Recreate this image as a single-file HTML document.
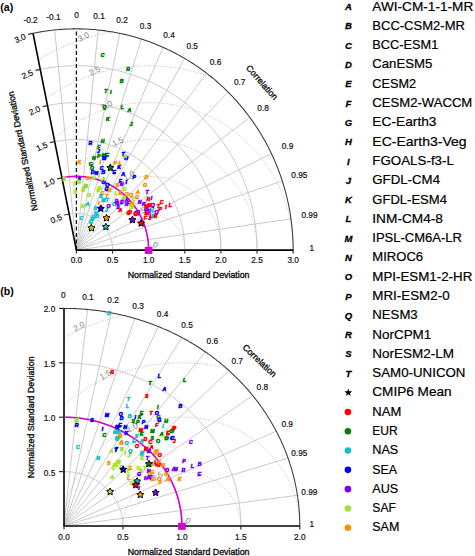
<!DOCTYPE html>
<html><head><meta charset="utf-8"><style>
html,body{margin:0;padding:0;background:#fff;width:475px;height:556px;overflow:hidden}
body{position:relative;font-family:"Liberation Sans", sans-serif}
</style></head><body>
<svg width="475" height="556" viewBox="0 0 475 556" style="position:absolute;left:0;top:0"><rect width="475" height="556" fill="#fff"/><g font-family='"Liberation Sans", sans-serif'><g stroke="#c4c4c4" stroke-width="0.9" fill="none"><line x1="76.40" y1="250.10" x2="33.05" y2="33.32"/><line x1="76.40" y1="250.10" x2="54.72" y2="29.96"/><line x1="76.40" y1="250.10" x2="98.08" y2="29.96"/><line x1="76.40" y1="250.10" x2="119.75" y2="33.32"/><line x1="76.40" y1="250.10" x2="141.43" y2="39.04"/><line x1="76.40" y1="250.10" x2="163.10" y2="47.32"/><line x1="76.40" y1="250.10" x2="184.77" y2="58.49"/><line x1="76.40" y1="250.10" x2="206.45" y2="73.10"/><line x1="76.40" y1="250.10" x2="228.12" y2="92.10"/><line x1="76.40" y1="250.10" x2="249.80" y2="117.35"/><line x1="76.40" y1="250.10" x2="271.48" y2="153.66"/><line x1="76.40" y1="250.10" x2="282.31" y2="181.01"/><line x1="76.40" y1="250.10" x2="290.98" y2="218.89"/><path d="M112.53,250.10 L112.52,249.28 L112.49,248.47 L112.45,247.65 L112.38,246.84 L112.30,246.02 L112.21,245.21 L112.09,244.40 L111.96,243.60 L111.81,242.80 L111.64,242.00 L111.46,241.20 L111.26,240.41 L111.04,239.63 L110.80,238.85 L110.55,238.07 L110.28,237.30 L109.99,236.54 L109.69,235.78 L109.37,235.03 L109.04,234.29 L108.69,233.56 L108.32,232.83 L107.94,232.11 L107.54,231.41 L107.13,230.71 L106.70,230.02 L106.25,229.34 L105.80,228.67 L105.32,228.01 L104.84,227.36 L104.34,226.72 L103.82,226.10 L103.29,225.48 L102.75,224.88 L102.20,224.29 L101.63,223.71 L101.06,223.15 L100.46,222.60 L99.86,222.06 L99.25,221.54 L98.62,221.03 L97.99,220.53 L97.34,220.05 L96.68,219.59 L96.01,219.13 L95.34,218.70 L94.65,218.28 L93.96,217.87 L93.25,217.48 L92.54,217.11 L91.82,216.75 L91.09,216.41 L90.36,216.09 L89.62,215.78 L88.87,215.49 L88.12,215.22 L87.36,214.96 L86.59,214.72 L85.82,214.50 L85.05,214.30 L84.27,214.11 L83.48,213.94 L82.70,213.79 L81.91,213.66 L81.12,213.54 L80.32,213.44 L79.53,213.36 L78.73,213.30 L77.93,213.26 L77.13,213.23 L76.33,213.23 L75.53,213.24 L74.73,213.26 L73.93,213.31 L73.13,213.38 L72.34,213.46 L71.54,213.56 L70.75,213.68 L69.96,213.82 L69.18,213.97" fill="none"/><path d="M148.65,250.10 L148.63,248.47 L148.58,246.83 L148.49,245.20 L148.37,243.57 L148.21,241.95 L148.01,240.33 L147.78,238.71 L147.52,237.10 L147.22,235.49 L146.88,233.90 L146.52,232.31 L146.11,230.73 L145.67,229.15 L145.20,227.59 L144.70,226.04 L144.16,224.50 L143.59,222.98 L142.98,221.47 L142.34,219.97 L141.67,218.48 L140.97,217.02 L140.24,215.56 L139.47,214.13 L138.68,212.71 L137.85,211.31 L136.99,209.93 L136.11,208.57 L135.19,207.23 L134.25,205.91 L133.27,204.62 L132.27,203.34 L131.25,202.09 L130.19,200.86 L129.11,199.66 L128.00,198.48 L126.87,197.33 L125.71,196.20 L124.53,195.10 L123.32,194.02 L122.09,192.97 L120.84,191.95 L119.57,190.96 L118.28,190.00 L116.96,189.07 L115.63,188.17 L114.28,187.30 L112.90,186.46 L111.51,185.65 L110.11,184.87 L108.68,184.12 L107.24,183.41 L105.79,182.73 L104.32,182.08 L102.84,181.46 L101.34,180.88 L99.83,180.34 L98.31,179.82 L96.78,179.35 L95.24,178.90 L93.69,178.49 L92.13,178.12 L90.57,177.78 L89.00,177.48 L87.42,177.21 L85.83,176.98 L84.24,176.79 L82.65,176.63 L81.05,176.50 L79.46,176.42 L77.86,176.36 L76.26,176.35 L74.66,176.37 L73.06,176.43 L71.46,176.52 L69.86,176.65 L68.27,176.82 L66.68,177.02 L65.10,177.26 L63.52,177.53 L61.95,177.84" fill="none"/><path d="M184.78,250.10 L184.75,247.65 L184.67,245.20 L184.54,242.75 L184.35,240.31 L184.11,237.87 L183.82,235.44 L183.47,233.01 L183.08,230.60 L182.63,228.19 L182.13,225.79 L181.57,223.41 L180.97,221.04 L180.31,218.68 L179.60,216.34 L178.85,214.01 L178.04,211.71 L177.18,209.42 L176.27,207.15 L175.32,204.90 L174.31,202.68 L173.26,200.47 L172.16,198.30 L171.01,196.14 L169.82,194.02 L168.58,191.92 L167.29,189.85 L165.96,187.81 L164.59,185.80 L163.17,183.82 L161.71,181.88 L160.21,179.96 L158.67,178.09 L157.08,176.24 L155.46,174.44 L153.80,172.67 L152.10,170.94 L150.37,169.25 L148.59,167.59 L146.78,165.98 L144.94,164.41 L143.07,162.88 L141.16,161.40 L139.22,159.95 L137.24,158.56 L135.24,157.20 L133.21,155.89 L131.15,154.63 L129.07,153.42 L126.96,152.25 L124.82,151.13 L122.66,150.06 L120.48,149.04 L118.28,148.07 L116.05,147.15 L113.81,146.27 L111.55,145.45 L109.27,144.69 L106.97,143.97 L104.66,143.30 L102.34,142.69 L100.00,142.13 L97.65,141.62 L95.29,141.17 L92.92,140.77 L90.55,140.42 L88.16,140.13 L85.78,139.89 L83.38,139.70 L80.98,139.57 L78.58,139.50 L76.18,139.48 L73.78,139.51 L71.38,139.59 L68.99,139.73 L66.59,139.93 L64.21,140.18 L61.82,140.48 L59.45,140.84 L57.08,141.25 L54.73,141.71" fill="none"/><path d="M220.90,250.10 L220.86,246.83 L220.76,243.57 L220.58,240.30 L220.33,237.05 L220.01,233.80 L219.63,230.55 L219.17,227.32 L218.64,224.10 L218.04,220.89 L217.37,217.69 L216.63,214.51 L215.82,211.35 L214.95,208.21 L214.01,205.09 L213.00,201.99 L211.92,198.91 L210.77,195.86 L209.56,192.83 L208.29,189.84 L206.95,186.87 L205.54,183.93 L204.08,181.03 L202.55,178.16 L200.96,175.32 L199.30,172.53 L197.59,169.77 L195.82,167.05 L193.98,164.37 L192.09,161.73 L190.15,159.14 L188.15,156.59 L186.09,154.08 L183.98,151.63 L181.82,149.22 L179.60,146.86 L177.34,144.55 L175.02,142.29 L172.66,140.09 L170.25,137.94 L167.79,135.85 L165.29,133.81 L162.74,131.83 L160.16,129.90 L157.53,128.04 L154.86,126.24 L152.15,124.49 L149.41,122.81 L146.63,121.19 L143.81,119.63 L140.96,118.14 L138.09,116.72 L135.18,115.35 L132.24,114.06 L129.27,112.83 L126.28,111.67 L123.26,110.57 L120.22,109.55 L117.16,108.59 L114.08,107.70 L110.98,106.89 L107.87,106.14 L104.74,105.46 L101.59,104.86 L98.43,104.32 L95.26,103.86 L92.09,103.47 L88.90,103.15 L85.71,102.91 L82.51,102.73 L79.31,102.63 L76.11,102.60 L72.91,102.64 L69.71,102.76 L66.52,102.95 L63.33,103.20 L60.14,103.54 L56.97,103.94 L53.80,104.42 L50.64,104.96 L47.50,105.58" fill="none"/><path d="M257.02,250.10 L256.98,246.02 L256.85,241.93 L256.63,237.86 L256.32,233.78 L255.92,229.72 L255.43,225.67 L254.86,221.62 L254.20,217.60 L253.45,213.58 L252.61,209.59 L251.69,205.62 L250.68,201.66 L249.59,197.74 L248.41,193.83 L247.15,189.96 L245.80,186.11 L244.37,182.30 L242.86,178.52 L241.26,174.77 L239.59,171.06 L237.83,167.39 L236.00,163.76 L234.08,160.17 L232.09,156.63 L230.03,153.13 L227.89,149.68 L225.67,146.28 L223.38,142.93 L221.02,139.64 L218.59,136.39 L216.08,133.21 L213.51,130.08 L210.87,127.01 L208.17,124.00 L205.40,121.05 L202.57,118.16 L199.68,115.34 L196.72,112.59 L193.71,109.90 L190.64,107.28 L187.51,104.74 L184.33,102.26 L181.09,99.86 L177.81,97.53 L174.47,95.27 L171.09,93.09 L167.66,90.99 L164.18,88.96 L160.67,87.02 L157.11,85.15 L153.51,83.37 L149.87,81.67 L146.20,80.05 L142.49,78.51 L138.75,77.06 L134.98,75.69 L131.18,74.41 L127.35,73.21 L123.50,72.10 L119.63,71.08 L115.73,70.15 L111.82,69.30 L107.89,68.55 L103.94,67.88 L99.98,67.30 L96.01,66.81 L92.03,66.42 L88.04,66.11 L84.04,65.89 L80.04,65.76 L76.04,65.73 L72.04,65.78 L68.04,65.92 L64.05,66.16 L60.06,66.48 L56.08,66.90 L52.11,67.40 L48.15,67.99 L44.20,68.68 L40.27,69.45" fill="none"/></g><g stroke="#b4b4b4" stroke-width="0.9" stroke-dasharray="1,1.6" fill="none"><path d="M184.78,250.10 L184.77,249.81 L184.77,249.52 L184.76,249.23 L184.76,248.94 L184.75,248.65 L184.73,248.36 L184.72,248.07 L184.70,247.78 L184.68,247.50 L184.66,247.21 L184.64,246.92 L184.61,246.63 L184.59,246.34 L184.56,246.05 L184.52,245.77 L184.49,245.48 L184.45,245.19 L184.41,244.90 L184.37,244.62 L184.33,244.33 L184.28,244.05 L184.24,243.76 L184.19,243.48 L184.14,243.19 L184.08,242.91 L184.02,242.62 L183.97,242.34 L183.90,242.06 L183.84,241.77 L183.78,241.49 L183.71,241.21 L183.64,240.93 L183.57,240.65 L183.49,240.37 L183.42,240.09 L183.34,239.81 L183.26,239.53 L183.18,239.26 L183.09,238.98 L183.01,238.70 L182.92,238.43 L182.83,238.16 L182.73,237.88 L182.64,237.61 L182.54,237.34 L182.44,237.07 L182.34,236.80 L182.24,236.53 L182.13,236.26 L182.03,235.99 L181.92,235.72 L181.80,235.46 L181.69,235.19 L181.57,234.93 L181.46,234.66 L181.34,234.40 L181.22,234.14 L181.09,233.88 L180.97,233.62 L180.84,233.36 L180.71,233.10 L180.58,232.85 L180.44,232.59 L180.31,232.34 L180.17,232.08 L180.03,231.83 L179.89,231.58 L179.74,231.33 L179.60,231.08 L179.45,230.83 L179.30,230.59 L179.15,230.34 L179.00,230.10 L178.84,229.85 L178.69,229.61 L178.53,229.37 L178.37,229.13 L178.21,228.90 L178.04,228.66 L177.88,228.43 L177.71,228.19 L177.54,227.96 L177.37,227.73 L177.19,227.50 L177.02,227.27 L176.84,227.04 L176.66,226.82 L176.48,226.59 L176.30,226.37 L176.12,226.15 L175.93,225.93 L175.75,225.71 L175.56,225.50 L175.37,225.28 L175.18,225.07 L174.98,224.86 L174.79,224.65 L174.59,224.44 L174.39,224.23 L174.19,224.03 L173.99,223.82 L173.79,223.62 L173.59,223.42 L173.38,223.22 L173.17,223.02 L172.96,222.83 L172.75,222.63 L172.54,222.44 L172.33,222.25 L172.11,222.06 L171.89,221.87 L171.68,221.69 L171.46,221.50 L171.24,221.32 L171.01,221.14 L170.79,220.96 L170.57,220.79 L170.34,220.61 L170.11,220.44 L169.88,220.27 L169.65,220.10 L169.42,219.93 L169.19,219.77 L168.96,219.60 L168.72,219.44 L168.48,219.28 L168.25,219.12 L168.01,218.97 L167.77,218.81 L167.53,218.66 L167.28,218.51 L167.04,218.36 L166.79,218.21 L166.55,218.07 L166.30,217.93 L166.05,217.79 L165.80,217.65 L165.55,217.51 L165.30,217.38 L165.05,217.24 L164.80,217.11 L164.54,216.99 L164.29,216.86 L164.03,216.73 L163.77,216.61 L163.52,216.49 L163.26,216.37 L163.00,216.26 L162.74,216.14 L162.47,216.03 L162.21,215.92 L161.95,215.81 L161.68,215.71 L161.42,215.61 L161.15,215.50 L160.89,215.41 L160.62,215.31 L160.35,215.21 L160.08,215.12 L159.81,215.03 L159.54,214.94 L159.27,214.86 L159.00,214.77 L158.73,214.69 L158.46,214.61 L158.18,214.53 L157.91,214.46 L157.63,214.38 L157.36,214.31 L157.08,214.24 L156.81,214.18 L156.53,214.11 L156.25,214.05 L155.98,213.99 L155.70,213.93 L155.42,213.88 L155.14,213.83 L154.86,213.77 L154.58,213.73 L154.30,213.68 L154.02,213.63 L153.74,213.59 L153.46,213.55 L153.18,213.52 L152.90,213.48 L152.61,213.45 L152.33,213.42 L152.05,213.39 L151.77,213.36 L151.48,213.34 L151.20,213.32 L150.92,213.30 L150.64,213.28 L150.35,213.27 L150.07,213.25 L149.78,213.24 L149.50,213.24 L149.22,213.23 L148.93,213.23 L148.65,213.22 L148.37,213.23 L148.08,213.23 L147.80,213.24 L147.52,213.24 L147.23,213.25 L146.95,213.27 L146.66,213.28 L146.38,213.30 L146.10,213.32 L145.82,213.34 L145.53,213.36 L145.25,213.39 L144.97,213.42 L144.69,213.45 L144.40,213.48 L144.12,213.52 L143.84,213.55 L143.56,213.59 L143.28,213.63 L143.00,213.68 L142.72,213.73 L142.44,213.77 L142.16,213.83 L141.88,213.88 L141.60,213.93 L141.32,213.99 L141.05,214.05 L140.77,214.11 L140.49,214.18 L140.22,214.24 L139.94,214.31 L139.67,214.38 L139.39,214.46 L139.12,214.53 L138.84,214.61 L138.57,214.69 L138.30,214.77 L138.03,214.86 L137.76,214.94 L137.49,215.03 L137.22,215.12 L136.95,215.21 L136.68,215.31 L136.41,215.41 L136.15,215.50 L135.88,215.61 L135.62,215.71 L135.35,215.81 L135.09,215.92 L134.83,216.03 L134.56,216.14 L134.30,216.26 L134.04,216.37 L133.78,216.49 L133.53,216.61 L133.27,216.73 L133.01,216.86 L132.76,216.99 L132.50,217.11 L132.25,217.24 L132.00,217.38 L131.75,217.51 L131.50,217.65 L131.25,217.79 L131.00,217.93 L130.75,218.07 L130.51,218.21 L130.26,218.36 L130.02,218.51 L129.77,218.66 L129.53,218.81 L129.29,218.97 L129.05,219.12 L128.82,219.28 L128.58,219.44 L128.34,219.60 L128.11,219.77 L127.88,219.93 L127.65,220.10 L127.42,220.27 L127.19,220.44 L126.96,220.61 L126.73,220.79 L126.51,220.96 L126.29,221.14 L126.06,221.32 L125.84,221.50 L125.62,221.69 L125.41,221.87 L125.19,222.06 L124.97,222.25 L124.76,222.44 L124.55,222.63 L124.34,222.83 L124.13,223.02 L123.92,223.22 L123.71,223.42 L123.51,223.62 L123.31,223.82 L123.11,224.03 L122.91,224.23 L122.71,224.44 L122.51,224.65 L122.32,224.86 L122.12,225.07 L121.93,225.28 L121.74,225.50 L121.55,225.71 L121.37,225.93 L121.18,226.15 L121.00,226.37 L120.82,226.59 L120.64,226.82 L120.46,227.04 L120.28,227.27 L120.11,227.50 L119.93,227.73 L119.76,227.96 L119.59,228.19 L119.42,228.43 L119.26,228.66 L119.09,228.90 L118.93,229.13 L118.77,229.37 L118.61,229.61 L118.46,229.85 L118.30,230.10 L118.15,230.34 L118.00,230.59 L117.85,230.83 L117.70,231.08 L117.56,231.33 L117.41,231.58 L117.27,231.83 L117.13,232.08 L116.99,232.34 L116.86,232.59 L116.72,232.85 L116.59,233.10 L116.46,233.36 L116.33,233.62 L116.21,233.88 L116.08,234.14 L115.96,234.40 L115.84,234.66 L115.73,234.93 L115.61,235.19 L115.50,235.46 L115.38,235.72 L115.27,235.99 L115.17,236.26 L115.06,236.53 L114.96,236.80 L114.86,237.07 L114.76,237.34 L114.66,237.61 L114.57,237.88 L114.47,238.16 L114.38,238.43 L114.29,238.70 L114.21,238.98 L114.12,239.26 L114.04,239.53 L113.96,239.81 L113.88,240.09 L113.81,240.37 L113.73,240.65 L113.66,240.93 L113.59,241.21 L113.52,241.49 L113.46,241.77 L113.40,242.06 L113.33,242.34 L113.28,242.62 L113.22,242.91 L113.16,243.19 L113.11,243.48 L113.06,243.76 L113.02,244.05 L112.97,244.33 L112.93,244.62 L112.89,244.90 L112.85,245.19 L112.81,245.48 L112.78,245.77 L112.74,246.05 L112.71,246.34 L112.69,246.63 L112.66,246.92 L112.64,247.21 L112.62,247.50 L112.60,247.78 L112.58,248.07 L112.57,248.36 L112.55,248.65 L112.54,248.94 L112.54,249.23 L112.53,249.52 L112.53,249.81 L112.53,250.10"/><path d="M220.90,250.10 L220.90,249.52 L220.89,248.94 L220.88,248.36 L220.86,247.78 L220.84,247.20 L220.82,246.63 L220.79,246.05 L220.76,245.47 L220.72,244.89 L220.68,244.31 L220.63,243.74 L220.58,243.16 L220.52,242.58 L220.46,242.01 L220.40,241.43 L220.33,240.86 L220.26,240.28 L220.18,239.71 L220.10,239.14 L220.01,238.56 L219.92,237.99 L219.82,237.42 L219.72,236.85 L219.62,236.28 L219.51,235.71 L219.40,235.14 L219.28,234.58 L219.16,234.01 L219.03,233.45 L218.90,232.88 L218.77,232.32 L218.63,231.76 L218.49,231.20 L218.34,230.64 L218.19,230.08 L218.03,229.52 L217.87,228.97 L217.71,228.41 L217.54,227.86 L217.36,227.31 L217.19,226.76 L217.00,226.21 L216.82,225.66 L216.63,225.12 L216.43,224.57 L216.24,224.03 L216.03,223.49 L215.83,222.95 L215.62,222.41 L215.40,221.88 L215.18,221.34 L214.96,220.81 L214.73,220.28 L214.50,219.75 L214.26,219.22 L214.02,218.70 L213.78,218.18 L213.53,217.65 L213.28,217.14 L213.03,216.62 L212.77,216.10 L212.50,215.59 L212.23,215.08 L211.96,214.57 L211.69,214.06 L211.41,213.56 L211.13,213.06 L210.84,212.56 L210.55,212.06 L210.25,211.57 L209.95,211.07 L209.65,210.58 L209.35,210.09 L209.04,209.61 L208.72,209.13 L208.41,208.65 L208.09,208.17 L207.76,207.69 L207.43,207.22 L207.10,206.75 L206.77,206.28 L206.43,205.82 L206.08,205.36 L205.74,204.90 L205.39,204.44 L205.04,203.99 L204.68,203.54 L204.32,203.09 L203.96,202.65 L203.59,202.20 L203.22,201.76 L202.85,201.33 L202.47,200.90 L202.09,200.47 L201.70,200.04 L201.32,199.61 L200.93,199.19 L200.53,198.78 L200.14,198.36 L199.74,197.95 L199.34,197.54 L198.93,197.14 L198.52,196.74 L198.11,196.34 L197.69,195.94 L197.28,195.55 L196.85,195.16 L196.43,194.78 L196.00,194.40 L195.57,194.02 L195.14,193.65 L194.70,193.27 L194.27,192.91 L193.82,192.54 L193.38,192.18 L192.93,191.83 L192.48,191.47 L192.03,191.12 L191.58,190.78 L191.12,190.43 L190.66,190.10 L190.19,189.76 L189.73,189.43 L189.26,189.10 L188.79,188.78 L188.32,188.46 L187.84,188.14 L187.36,187.83 L186.88,187.52 L186.40,187.22 L185.92,186.92 L185.43,186.62 L184.94,186.33 L184.45,186.04 L183.95,185.75 L183.46,185.47 L182.96,185.20 L182.46,184.92 L181.96,184.65 L181.45,184.39 L180.94,184.13 L180.44,183.87 L179.93,183.62 L179.41,183.37 L178.90,183.12 L178.38,182.88 L177.86,182.65 L177.34,182.42 L176.82,182.19 L176.30,181.96 L175.77,181.74 L175.25,181.53 L174.72,181.32 L174.19,181.11 L173.66,180.91 L173.12,180.71 L172.59,180.52 L172.05,180.33 L171.52,180.14 L170.98,179.96 L170.44,179.78 L169.89,179.61 L169.35,179.44 L168.81,179.28 L168.26,179.12 L167.71,178.96 L167.17,178.81 L166.62,178.67 L166.07,178.53 L165.52,178.39 L164.96,178.25 L164.41,178.13 L163.86,178.00 L163.30,177.88 L162.75,177.77 L162.19,177.66 L161.63,177.55 L161.07,177.45 L160.51,177.35 L159.95,177.26 L159.39,177.17 L158.83,177.09 L158.27,177.01 L157.71,176.93 L157.14,176.86 L156.58,176.80 L156.01,176.73 L155.45,176.68 L154.88,176.63 L154.32,176.58 L153.75,176.53 L153.19,176.50 L152.62,176.46 L152.05,176.43 L151.49,176.41 L150.92,176.39 L150.35,176.37 L149.78,176.36 L149.22,176.35 L148.65,176.35 L148.08,176.35 L147.52,176.36 L146.95,176.37 L146.38,176.39 L145.81,176.41 L145.25,176.43 L144.68,176.46 L144.11,176.50 L143.55,176.53 L142.98,176.58 L142.42,176.63 L141.85,176.68 L141.29,176.73 L140.72,176.80 L140.16,176.86 L139.59,176.93 L139.03,177.01 L138.47,177.09 L137.91,177.17 L137.35,177.26 L136.79,177.35 L136.23,177.45 L135.67,177.55 L135.11,177.66 L134.55,177.77 L134.00,177.88 L133.44,178.00 L132.89,178.13 L132.34,178.25 L131.78,178.39 L131.23,178.53 L130.68,178.67 L130.13,178.81 L129.59,178.96 L129.04,179.12 L128.49,179.28 L127.95,179.44 L127.41,179.61 L126.86,179.78 L126.32,179.96 L125.78,180.14 L125.25,180.33 L124.71,180.52 L124.18,180.71 L123.64,180.91 L123.11,181.11 L122.58,181.32 L122.05,181.53 L121.53,181.74 L121.00,181.96 L120.48,182.19 L119.96,182.42 L119.44,182.65 L118.92,182.88 L118.40,183.12 L117.89,183.37 L117.37,183.62 L116.86,183.87 L116.36,184.13 L115.85,184.39 L115.34,184.65 L114.84,184.92 L114.34,185.20 L113.84,185.47 L113.35,185.75 L112.85,186.04 L112.36,186.33 L111.87,186.62 L111.38,186.92 L110.90,187.22 L110.42,187.52 L109.94,187.83 L109.46,188.14 L108.98,188.46 L108.51,188.78 L108.04,189.10 L107.57,189.43 L107.11,189.76 L106.64,190.10 L106.18,190.43 L105.72,190.78 L105.27,191.12 L104.82,191.47 L104.37,191.83 L103.92,192.18 L103.48,192.54 L103.03,192.91 L102.60,193.27 L102.16,193.65 L101.73,194.02 L101.30,194.40 L100.87,194.78 L100.45,195.16 L100.02,195.55 L99.61,195.94 L99.19,196.34 L98.78,196.74 L98.37,197.14 L97.96,197.54 L97.56,197.95 L97.16,198.36 L96.77,198.78 L96.37,199.19 L95.98,199.61 L95.60,200.04 L95.21,200.47 L94.83,200.90 L94.45,201.33 L94.08,201.76 L93.71,202.20 L93.34,202.65 L92.98,203.09 L92.62,203.54 L92.26,203.99 L91.91,204.44 L91.56,204.90 L91.22,205.36 L90.87,205.82 L90.53,206.28 L90.20,206.75 L89.87,207.22 L89.54,207.69 L89.21,208.17 L88.89,208.65 L88.58,209.13 L88.26,209.61 L87.95,210.09 L87.65,210.58 L87.35,211.07 L87.05,211.57 L86.75,212.06 L86.46,212.56 L86.17,213.06 L85.89,213.56 L85.61,214.06 L85.34,214.57 L85.07,215.08 L84.80,215.59 L84.53,216.10 L84.27,216.62 L84.02,217.14 L83.77,217.65 L83.52,218.18 L83.28,218.70 L83.04,219.22 L82.80,219.75 L82.57,220.28 L82.34,220.81 L82.12,221.34 L81.90,221.88 L81.68,222.41 L81.47,222.95 L81.27,223.49 L81.06,224.03 L80.87,224.57 L80.67,225.12 L80.48,225.66 L80.30,226.21 L80.11,226.76 L79.94,227.31 L79.76,227.86 L79.59,228.41 L79.43,228.97 L79.27,229.52 L79.11,230.08 L78.96,230.64 L78.81,231.20 L78.67,231.76 L78.53,232.32 L78.40,232.88 L78.27,233.45 L78.14,234.01 L78.02,234.58 L77.90,235.14 L77.79,235.71 L77.68,236.28 L77.58,236.85 L77.48,237.42 L77.38,237.99 L77.29,238.56 L77.20,239.14 L77.12,239.71 L77.04,240.28 L76.97,240.86 L76.90,241.43 L76.84,242.01 L76.78,242.58 L76.72,243.16 L76.67,243.74 L76.62,244.31 L76.58,244.89 L76.54,245.47 L76.51,246.05 L76.48,246.63 L76.46,247.20 L76.44,247.78 L76.42,248.36 L76.41,248.94 L76.40,249.52 L76.40,250.10"/><path d="M257.02,250.10 L257.02,249.23 L257.01,248.36 L256.99,247.49 L256.97,246.63 L256.94,245.76 L256.90,244.89 L256.86,244.02 L256.81,243.15 L256.75,242.29 L256.69,241.42 L256.62,240.55 L256.54,239.69 L256.46,238.82 L256.37,237.96 L256.27,237.10 L256.17,236.24 L256.06,235.37 L255.94,234.51 L255.82,233.65 L255.69,232.79 L255.55,231.94 L255.41,231.08 L255.26,230.23 L255.11,229.37 L254.94,228.52 L254.77,227.67 L254.60,226.82 L254.41,225.97 L254.23,225.12 L254.03,224.28 L253.83,223.43 L253.62,222.59 L253.41,221.75 L253.18,220.91 L252.96,220.07 L252.72,219.24 L252.48,218.40 L252.23,217.57 L251.98,216.74 L251.72,215.91 L251.45,215.09 L251.18,214.27 L250.90,213.45 L250.62,212.63 L250.33,211.81 L250.03,211.00 L249.72,210.19 L249.41,209.38 L249.10,208.57 L248.78,207.77 L248.45,206.96 L248.11,206.17 L247.77,205.37 L247.42,204.58 L247.07,203.79 L246.71,203.00 L246.35,202.21 L245.97,201.43 L245.60,200.65 L245.21,199.88 L244.82,199.10 L244.43,198.34 L244.03,197.57 L243.62,196.81 L243.21,196.05 L242.79,195.29 L242.36,194.54 L241.93,193.79 L241.50,193.04 L241.05,192.30 L240.61,191.56 L240.15,190.82 L239.70,190.09 L239.23,189.36 L238.76,188.64 L238.28,187.92 L237.80,187.20 L237.32,186.49 L236.82,185.78 L236.33,185.08 L235.82,184.38 L235.32,183.68 L234.80,182.99 L234.28,182.30 L233.76,181.61 L233.23,180.93 L232.69,180.26 L232.15,179.58 L231.61,178.92 L231.06,178.25 L230.50,177.60 L229.94,176.94 L229.38,176.29 L228.81,175.65 L228.23,175.01 L227.65,174.37 L227.07,173.74 L226.48,173.11 L225.88,172.49 L225.28,171.88 L224.68,171.26 L224.07,170.66 L223.46,170.06 L222.84,169.46 L222.22,168.87 L221.59,168.28 L220.96,167.70 L220.32,167.12 L219.68,166.55 L219.03,165.98 L218.38,165.42 L217.73,164.86 L217.07,164.31 L216.41,163.76 L215.74,163.22 L215.07,162.69 L214.40,162.16 L213.72,161.63 L213.04,161.12 L212.35,160.60 L211.66,160.09 L210.97,159.59 L210.27,159.10 L209.57,158.60 L208.86,158.12 L208.15,157.64 L207.44,157.16 L206.72,156.70 L206.00,156.23 L205.28,155.78 L204.55,155.33 L203.82,154.88 L203.08,154.44 L202.35,154.01 L201.60,153.58 L200.86,153.16 L200.11,152.74 L199.36,152.33 L198.61,151.93 L197.85,151.53 L197.09,151.14 L196.33,150.76 L195.56,150.38 L194.79,150.00 L194.02,149.64 L193.25,149.28 L192.47,148.92 L191.69,148.57 L190.91,148.23 L190.12,147.90 L189.34,147.57 L188.55,147.24 L187.75,146.93 L186.96,146.62 L186.16,146.31 L185.36,146.02 L184.56,145.72 L183.75,145.44 L182.95,145.16 L182.14,144.89 L181.33,144.62 L180.52,144.37 L179.70,144.11 L178.89,143.87 L178.07,143.63 L177.25,143.40 L176.43,143.17 L175.60,142.95 L174.78,142.74 L173.95,142.53 L173.12,142.33 L172.29,142.14 L171.46,141.95 L170.63,141.77 L169.79,141.60 L168.96,141.43 L168.12,141.28 L167.28,141.12 L166.44,140.98 L165.60,140.84 L164.76,140.70 L163.92,140.58 L163.08,140.46 L162.23,140.35 L161.39,140.24 L160.54,140.14 L159.70,140.05 L158.85,139.97 L158.00,139.89 L157.15,139.82 L156.30,139.75 L155.45,139.69 L154.61,139.64 L153.76,139.60 L152.90,139.56 L152.05,139.53 L151.20,139.51 L150.35,139.49 L149.50,139.48 L148.65,139.47 L147.80,139.48 L146.95,139.49 L146.10,139.51 L145.25,139.53 L144.40,139.56 L143.54,139.60 L142.69,139.64 L141.85,139.69 L141.00,139.75 L140.15,139.82 L139.30,139.89 L138.45,139.97 L137.60,140.05 L136.76,140.14 L135.91,140.24 L135.07,140.35 L134.22,140.46 L133.38,140.58 L132.54,140.70 L131.70,140.84 L130.86,140.98 L130.02,141.12 L129.18,141.28 L128.34,141.43 L127.51,141.60 L126.67,141.77 L125.84,141.95 L125.01,142.14 L124.18,142.33 L123.35,142.53 L122.52,142.74 L121.70,142.95 L120.87,143.17 L120.05,143.40 L119.23,143.63 L118.41,143.87 L117.60,144.11 L116.78,144.37 L115.97,144.62 L115.16,144.89 L114.35,145.16 L113.55,145.44 L112.74,145.72 L111.94,146.02 L111.14,146.31 L110.34,146.62 L109.55,146.93 L108.75,147.24 L107.96,147.57 L107.18,147.90 L106.39,148.23 L105.61,148.57 L104.83,148.92 L104.05,149.28 L103.28,149.64 L102.51,150.00 L101.74,150.38 L100.97,150.76 L100.21,151.14 L99.45,151.53 L98.69,151.93 L97.94,152.33 L97.19,152.74 L96.44,153.16 L95.70,153.58 L94.95,154.01 L94.22,154.44 L93.48,154.88 L92.75,155.33 L92.02,155.78 L91.30,156.23 L90.58,156.70 L89.86,157.16 L89.15,157.64 L88.44,158.12 L87.73,158.60 L87.03,159.10 L86.33,159.59 L85.64,160.09 L84.95,160.60 L84.26,161.12 L83.58,161.63 L82.90,162.16 L82.23,162.69 L81.56,163.22 L80.89,163.76 L80.23,164.31 L79.57,164.86 L78.92,165.42 L78.27,165.98 L77.62,166.55 L76.98,167.12 L76.34,167.70 L75.71,168.28 L75.08,168.87 L74.46,169.46 L73.84,170.06 L73.23,170.66 L72.62,171.26 L72.02,171.88 L71.42,172.49 L70.82,173.11 L70.23,173.74 L69.65,174.37 L69.07,175.01 L68.49,175.65 L67.92,176.29 L67.36,176.94 L66.80,177.60 L66.24,178.25 L65.69,178.92 L65.15,179.58 L64.61,180.26 L64.07,180.93 L63.54,181.61 L63.02,182.30"/><path d="M293.15,250.10 L293.15,248.94 L293.13,247.78 L293.11,246.62 L293.08,245.47 L293.04,244.31 L292.99,243.15 L292.93,241.99 L292.86,240.84 L292.79,239.68 L292.70,238.53 L292.61,237.37 L292.51,236.22 L292.40,235.07 L292.28,233.91 L292.15,232.76 L292.01,231.61 L291.86,230.46 L291.71,229.32 L291.54,228.17 L291.37,227.03 L291.19,225.88 L291.00,224.74 L290.80,223.60 L290.59,222.46 L290.37,221.32 L290.15,220.19 L289.91,219.06 L289.67,217.92 L289.42,216.79 L289.16,215.67 L288.89,214.54 L288.61,213.42 L288.32,212.30 L288.03,211.18 L287.72,210.06 L287.41,208.95 L287.09,207.84 L286.76,206.73 L286.42,205.62 L286.08,204.52 L285.72,203.42 L285.36,202.32 L284.99,201.23 L284.61,200.14 L284.22,199.05 L283.82,197.96 L283.42,196.88 L283.00,195.80 L282.58,194.73 L282.15,193.65 L281.71,192.59 L281.27,191.52 L280.81,190.46 L280.35,189.40 L279.88,188.35 L279.40,187.30 L278.91,186.25 L278.41,185.21 L277.91,184.17 L277.40,183.14 L276.88,182.11 L276.35,181.08 L275.82,180.06 L275.28,179.04 L274.73,178.03 L274.17,177.02 L273.60,176.02 L273.03,175.02 L272.45,174.02 L271.86,173.03 L271.26,172.05 L270.66,171.07 L270.04,170.09 L269.42,169.12 L268.80,168.15 L268.16,167.19 L267.52,166.24 L266.87,165.29 L266.22,164.34 L265.55,163.40 L264.88,162.47 L264.20,161.54 L263.52,160.61 L262.83,159.70 L262.13,158.78 L261.42,157.88 L260.71,156.98 L259.99,156.08 L259.26,155.19 L258.53,154.31 L257.79,153.43 L257.04,152.56 L256.29,151.69 L255.53,150.83 L254.76,149.98 L253.99,149.13 L253.21,148.29 L252.42,147.45 L251.63,146.62 L250.83,145.80 L250.02,144.99 L249.21,144.18 L248.39,143.37 L247.57,142.58 L246.74,141.79 L245.90,141.00 L245.06,140.23 L244.21,139.46 L243.36,138.70 L242.50,137.94 L241.63,137.19 L240.76,136.45 L239.88,135.71 L239.00,134.99 L238.11,134.27 L237.22,133.55 L236.32,132.85 L235.41,132.15 L234.50,131.45 L233.58,130.77 L232.66,130.09 L231.74,129.42 L230.81,128.76 L229.87,128.11 L228.93,127.46 L227.98,126.82 L227.03,126.19 L226.08,125.56 L225.12,124.94 L224.15,124.34 L223.18,123.73 L222.21,123.14 L221.23,122.55 L220.24,121.98 L219.26,121.41 L218.26,120.84 L217.27,120.29 L216.27,119.74 L215.26,119.21 L214.25,118.68 L213.24,118.15 L212.22,117.64 L211.20,117.14 L210.18,116.64 L209.15,116.15 L208.11,115.67 L207.08,115.20 L206.04,114.73 L204.99,114.28 L203.95,113.83 L202.90,113.39 L201.84,112.96 L200.79,112.54 L199.73,112.12 L198.66,111.72 L197.60,111.32 L196.53,110.93 L195.46,110.55 L194.38,110.18 L193.30,109.82 L192.22,109.47 L191.14,109.12 L190.05,108.78 L188.96,108.46 L187.87,108.14 L186.78,107.83 L185.68,107.53 L184.59,107.23 L183.49,106.95 L182.38,106.68 L181.28,106.41 L180.17,106.15 L179.06,105.90 L177.95,105.66 L176.84,105.43 L175.73,105.21 L174.61,105.00 L173.49,104.80 L172.37,104.60 L171.25,104.42 L170.13,104.24 L169.01,104.07 L167.89,103.91 L166.76,103.76 L165.63,103.62 L164.51,103.49 L163.38,103.37 L162.25,103.25 L161.12,103.15 L159.99,103.05 L158.86,102.97 L157.72,102.89 L156.59,102.82 L155.46,102.76 L154.32,102.71 L153.19,102.67 L152.05,102.64 L150.92,102.62 L149.78,102.60 L148.65,102.60 L147.52,102.60 L146.38,102.62 L145.25,102.64 L144.11,102.67 L142.98,102.71 L141.84,102.76 L140.71,102.82 L139.58,102.89 L138.44,102.97 L137.31,103.05 L136.18,103.15 L135.05,103.25 L133.92,103.37 L132.79,103.49 L131.67,103.62 L130.54,103.76 L129.41,103.91 L128.29,104.07 L127.17,104.24 L126.05,104.42 L124.93,104.60 L123.81,104.80 L122.69,105.00 L121.57,105.21 L120.46,105.43 L119.35,105.66 L118.24,105.90 L117.13,106.15 L116.02,106.41 L114.92,106.68 L113.81,106.95 L112.71,107.23 L111.62,107.53 L110.52,107.83 L109.43,108.14 L108.34,108.46 L107.25,108.78 L106.16,109.12 L105.08,109.47 L104.00,109.82 L102.92,110.18 L101.84,110.55 L100.77,110.93 L99.70,111.32 L98.64,111.72 L97.57,112.12 L96.51,112.54 L95.46,112.96 L94.40,113.39 L93.35,113.83 L92.31,114.28 L91.26,114.73 L90.22,115.20 L89.19,115.67 L88.15,116.15 L87.12,116.64 L86.10,117.14 L85.08,117.64 L84.06,118.15 L83.05,118.68 L82.04,119.21 L81.03,119.74 L80.03,120.29 L79.04,120.84 L78.04,121.41 L77.06,121.98 L76.07,122.55 L75.09,123.14 L74.12,123.73 L73.15,124.34 L72.18,124.94 L71.22,125.56 L70.27,126.19 L69.32,126.82 L68.37,127.46 L67.43,128.11 L66.49,128.76 L65.56,129.42 L64.64,130.09 L63.72,130.77 L62.80,131.45 L61.89,132.15 L60.98,132.85 L60.08,133.55 L59.19,134.27 L58.30,134.99 L57.42,135.71 L56.54,136.45 L55.67,137.19 L54.80,137.94"/><path d="M211.17,77.12 L209.83,76.63 L208.50,76.14 L207.16,75.67 L205.81,75.20 L204.47,74.75 L203.12,74.31 L201.76,73.88 L200.40,73.46 L199.04,73.05 L197.68,72.65 L196.31,72.26 L194.94,71.88 L193.57,71.52 L192.19,71.16 L190.82,70.82 L189.44,70.49 L188.05,70.17 L186.67,69.86 L185.28,69.56 L183.89,69.27 L182.50,68.99 L181.10,68.73 L179.70,68.47 L178.31,68.23 L176.91,67.99 L175.50,67.77 L174.10,67.56 L172.70,67.37 L171.29,67.18 L169.88,67.00 L168.47,66.84 L167.06,66.69 L165.65,66.54 L164.24,66.41 L162.82,66.29 L161.41,66.19 L159.99,66.09 L158.58,66.00 L157.16,65.93 L155.74,65.87 L154.32,65.82 L152.91,65.78 L151.49,65.75 L150.07,65.73 L148.65,65.72 L147.23,65.73 L145.81,65.75 L144.39,65.78 L142.98,65.82 L141.56,65.87 L140.14,65.93 L138.72,66.00 L137.31,66.09 L135.89,66.19 L134.48,66.29 L133.06,66.41 L131.65,66.54 L130.24,66.69 L128.83,66.84 L127.42,67.00 L126.01,67.18 L124.60,67.37 L123.20,67.56 L121.80,67.77 L120.39,67.99 L118.99,68.23 L117.60,68.47 L116.20,68.73 L114.80,68.99 L113.41,69.27 L112.02,69.56 L110.63,69.86 L109.25,70.17 L107.86,70.49 L106.48,70.82 L105.11,71.16 L103.73,71.52 L102.36,71.88 L100.99,72.26 L99.62,72.65 L98.26,73.05 L96.90,73.46 L95.54,73.88 L94.18,74.31 L92.83,74.75 L91.49,75.20 L90.14,75.67 L88.80,76.14 L87.47,76.63 L86.13,77.12 L84.80,77.63 L83.48,78.14 L82.16,78.67 L80.84,79.21 L79.53,79.76 L78.22,80.32 L76.92,80.89 L75.62,81.47 L74.32,82.06 L73.03,82.66 L71.74,83.27 L70.46,83.89 L69.19,84.53 L67.91,85.17 L66.65,85.82 L65.39,86.48 L64.13,87.16 L62.88,87.84 L61.63,88.53 L60.39,89.23 L59.16,89.95 L57.93,90.67 L56.70,91.40 L55.49,92.14 L54.27,92.89 L53.07,93.66 L51.87,94.43 L50.67,95.21 L49.48,96.00 L48.30,96.80 L47.12,97.61"/><path d="M111.38,32.14 L109.71,32.45 L108.04,32.77 L106.36,33.10 L104.70,33.45 L103.03,33.81 L101.37,34.18 L99.71,34.56 L98.05,34.96 L96.40,35.38 L94.75,35.80 L93.10,36.24 L91.46,36.69 L89.82,37.16 L88.18,37.64 L86.55,38.13 L84.92,38.63 L83.29,39.15 L81.67,39.68 L80.05,40.22 L78.44,40.78 L76.83,41.35 L75.23,41.93 L73.63,42.53 L72.03,43.13 L70.44,43.75 L68.86,44.39 L67.28,45.03 L65.70,45.69 L64.13,46.36 L62.57,47.05 L61.01,47.74 L59.45,48.45 L57.91,49.17 L56.36,49.91 L54.82,50.65 L53.29,51.41 L51.77,52.18 L50.25,52.96 L48.73,53.76 L47.23,54.57 L45.72,55.39 L44.23,56.22 L42.74,57.06 L41.26,57.92 L39.78,58.78"/></g><text x="83.3" y="36.6" transform="rotate(-27 83.3 36.6)" font-size="8.3" fill="#808080" text-anchor="middle" dominant-baseline="central">3.0</text><text x="94.6" y="70.8" transform="rotate(-27 94.6 70.8)" font-size="8.3" fill="#808080" text-anchor="middle" dominant-baseline="central">2.5</text><text x="106.6" y="105.2" transform="rotate(-27 106.6 105.2)" font-size="8.3" fill="#808080" text-anchor="middle" dominant-baseline="central">2.0</text><text x="117.7" y="141.5" transform="rotate(-27 117.7 141.5)" font-size="8.3" fill="#808080" text-anchor="middle" dominant-baseline="central">1.5</text><text x="129" y="175.6" transform="rotate(-27 129 175.6)" font-size="8.3" fill="#808080" text-anchor="middle" dominant-baseline="central">1.0</text><text x="140" y="211.5" transform="rotate(-27 140 211.5)" font-size="8.3" fill="#808080" text-anchor="middle" dominant-baseline="central">0.5</text><text x="155.5" y="244.5" transform="rotate(35 155.5 244.5)" font-size="8.3" fill="#808080" text-anchor="middle" dominant-baseline="central">0</text><line x1="76.40" y1="250.10" x2="76.40" y2="28.85" stroke="#111" stroke-width="1.3" stroke-dasharray="4,2.5"/><path d="M293.15,250.10 L293.14,248.14 L293.12,246.18 L293.07,244.22 L293.01,242.26 L292.94,240.30 L292.84,238.34 L292.73,236.39 L292.61,234.43 L292.46,232.47 L292.30,230.52 L292.12,228.57 L291.93,226.62 L291.71,224.67 L291.48,222.72 L291.24,220.78 L290.98,218.84 L290.70,216.90 L290.40,214.96 L290.09,213.03 L289.76,211.10 L289.41,209.17 L289.04,207.24 L288.66,205.32 L288.27,203.40 L287.85,201.49 L287.42,199.58 L286.98,197.67 L286.51,195.77 L286.03,193.87 L285.54,191.98 L285.02,190.09 L284.50,188.20 L283.95,186.32 L283.39,184.45 L282.81,182.58 L282.22,180.71 L281.61,178.86 L280.98,177.00 L280.34,175.16 L279.68,173.31 L279.00,171.48 L278.31,169.65 L277.61,167.83 L276.88,166.01 L276.15,164.20 L275.39,162.40 L274.62,160.60 L273.84,158.81 L273.04,157.03 L272.22,155.25 L271.39,153.49 L270.55,151.73 L269.68,149.97 L268.81,148.23 L267.92,146.49 L267.01,144.77 L266.09,143.05 L265.15,141.33 L264.20,139.63 L263.23,137.94 L262.25,136.25 L261.26,134.57 L260.25,132.91 L259.22,131.25 L258.18,129.60 L257.13,127.96 L256.06,126.33 L254.98,124.71 L253.89,123.10 L252.78,121.50 L251.65,119.91 L250.52,118.33 L249.37,116.76 L248.20,115.20 L247.02,113.65 L245.83,112.11 L244.63,110.59 L243.41,109.07 L242.18,107.57 L240.94,106.07 L239.68,104.59 L238.41,103.12 L237.13,101.66 L235.83,100.21 L234.53,98.78 L233.21,97.35 L231.87,95.94 L230.53,94.54 L229.17,93.15 L227.80,91.78 L226.42,90.41 L225.03,89.06 L223.63,87.72 L222.21,86.40 L220.79,85.09 L219.35,83.79 L217.90,82.50 L216.44,81.23 L214.97,79.97 L213.48,78.72 L211.99,77.49 L210.49,76.27 L208.97,75.06 L207.45,73.87 L205.91,72.69 L204.37,71.53 L202.81,70.38 L201.25,69.24 L199.67,68.12 L198.09,67.01 L196.50,65.92 L194.89,64.84 L193.28,63.77 L191.66,62.72 L190.03,61.69 L188.39,60.67 L186.74,59.66 L185.08,58.67 L183.41,57.70 L181.74,56.74 L180.06,55.79 L178.37,54.86 L176.67,53.95 L174.96,53.05 L173.25,52.16 L171.52,51.30 L169.80,50.44 L168.06,49.61 L166.31,48.78 L164.56,47.98 L162.81,47.19 L161.04,46.42 L159.27,45.66 L157.49,44.92 L155.71,44.19 L153.92,43.48 L152.12,42.79 L150.32,42.11 L148.51,41.45 L146.70,40.81 L144.88,40.18 L143.05,39.57 L141.22,38.98 L139.39,38.40 L137.55,37.84 L135.70,37.29 L133.85,36.76 L132.00,36.25 L130.14,35.76 L128.28,35.28 L126.41,34.82 L124.54,34.38 L122.66,33.95 L120.79,33.54 L118.90,33.15 L117.02,32.77 L115.13,32.41 L113.24,32.07 L111.35,31.74 L109.45,31.44 L107.55,31.15 L105.65,30.87 L103.74,30.62 L101.84,30.38 L99.93,30.16 L98.02,29.95 L96.11,29.77 L94.19,29.60 L92.28,29.44 L90.36,29.31 L88.45,29.19 L86.53,29.09 L84.61,29.01 L82.69,28.94 L80.77,28.89 L78.85,28.86 L76.93,28.85 L75.01,28.85 L73.09,28.88 L71.17,28.91 L69.25,28.97 L67.33,29.04 L65.41,29.13 L63.49,29.24 L61.58,29.37 L59.66,29.51 L57.75,29.67 L55.83,29.85 L53.92,30.04 L52.01,30.25 L50.11,30.48 L48.20,30.73 L46.30,30.99 L44.40,31.28 L42.50,31.57 L40.60,31.89 L38.71,32.22 L36.82,32.57 L34.93,32.94 L33.05,33.32" fill="none" stroke="#3a3a3a" stroke-width="1.05"/><line x1="76.40" y1="250.10" x2="33.05" y2="33.32" stroke="#000" stroke-width="1.6"/><line x1="75.80" y1="250.10" x2="293.15" y2="250.10" stroke="#000" stroke-width="1.6"/><g stroke="#333" stroke-width="1.2"><line x1="76.40" y1="250.10" x2="76.40" y2="253.60"/><line x1="112.53" y1="250.10" x2="112.53" y2="253.60"/><line x1="148.65" y1="250.10" x2="148.65" y2="253.60"/><line x1="184.78" y1="250.10" x2="184.78" y2="253.60"/><line x1="220.90" y1="250.10" x2="220.90" y2="253.60"/><line x1="257.02" y1="250.10" x2="257.02" y2="253.60"/><line x1="293.15" y1="250.10" x2="293.15" y2="253.60"/><line x1="69.18" y1="213.97" x2="64.28" y2="214.97"/><line x1="61.95" y1="177.84" x2="57.05" y2="178.84"/><line x1="54.73" y1="141.71" x2="49.83" y2="142.71"/><line x1="47.50" y1="105.58" x2="42.60" y2="106.58"/><line x1="40.27" y1="69.45" x2="35.38" y2="70.45"/><line x1="33.05" y1="33.32" x2="28.15" y2="34.32"/></g><text x="30.6" y="20.2" font-size="8.3" fill="#111" stroke="#111" stroke-width="0.2" text-anchor="middle" dominant-baseline="central">-0.2</text><text x="53.5" y="16.9" font-size="8.3" fill="#111" stroke="#111" stroke-width="0.2" text-anchor="middle" dominant-baseline="central">-0.1</text><text x="76.5" y="15.1" font-size="8.3" fill="#111" stroke="#111" stroke-width="0.2" text-anchor="middle" dominant-baseline="central">0</text><text x="99.0" y="16.4" font-size="8.3" fill="#111" stroke="#111" stroke-width="0.2" text-anchor="middle" dominant-baseline="central">0.1</text><text x="122.0" y="19.7" font-size="8.3" fill="#111" stroke="#111" stroke-width="0.2" text-anchor="middle" dominant-baseline="central">0.2</text><text x="145.5" y="26.0" font-size="8.3" fill="#111" stroke="#111" stroke-width="0.2" text-anchor="middle" dominant-baseline="central">0.3</text><text x="169.0" y="34.6" font-size="8.3" fill="#111" stroke="#111" stroke-width="0.2" text-anchor="middle" dominant-baseline="central">0.4</text><text x="192.2" y="46.0" font-size="8.3" fill="#111" stroke="#111" stroke-width="0.2" text-anchor="middle" dominant-baseline="central">0.5</text><text x="215.6" y="61.7" font-size="8.3" fill="#111" stroke="#111" stroke-width="0.2" text-anchor="middle" dominant-baseline="central">0.6</text><text x="239.7" y="82.0" font-size="8.3" fill="#111" stroke="#111" stroke-width="0.2" text-anchor="middle" dominant-baseline="central">0.7</text><text x="263.0" y="108.2" font-size="8.3" fill="#111" stroke="#111" stroke-width="0.2" text-anchor="middle" dominant-baseline="central">0.8</text><text x="287.5" y="146.3" font-size="8.3" fill="#111" stroke="#111" stroke-width="0.2" text-anchor="middle" dominant-baseline="central">0.9</text><text x="299.4" y="175.0" font-size="8.3" fill="#111" stroke="#111" stroke-width="0.2" text-anchor="middle" dominant-baseline="central">0.95</text><text x="309.5" y="214.8" font-size="8.3" fill="#111" stroke="#111" stroke-width="0.2" text-anchor="middle" dominant-baseline="central">0.99</text><text x="311.7" y="247.9" font-size="8.3" fill="#111" stroke="#111" stroke-width="0.2" text-anchor="middle" dominant-baseline="central">1</text><g stroke="#c4c4c4" stroke-width="0.9" fill="none"><line x1="64.00" y1="526.00" x2="87.58" y2="309.49"/><line x1="64.00" y1="526.00" x2="111.16" y2="312.80"/><line x1="64.00" y1="526.00" x2="134.74" y2="318.42"/><line x1="64.00" y1="526.00" x2="158.32" y2="326.57"/><line x1="64.00" y1="526.00" x2="181.90" y2="337.55"/><line x1="64.00" y1="526.00" x2="205.48" y2="351.92"/><line x1="64.00" y1="526.00" x2="229.06" y2="370.60"/><line x1="64.00" y1="526.00" x2="252.64" y2="395.44"/><line x1="64.00" y1="526.00" x2="276.22" y2="431.15"/><line x1="64.00" y1="526.00" x2="288.01" y2="458.05"/><line x1="64.00" y1="526.00" x2="297.44" y2="495.30"/><path d="M122.95,526.00 L122.94,524.93 L122.90,523.86 L122.85,522.80 L122.77,521.73 L122.67,520.67 L122.54,519.61 L122.39,518.55 L122.22,517.49 L122.03,516.44 L121.82,515.39 L121.58,514.34 L121.32,513.30 L121.04,512.26 L120.74,511.23 L120.41,510.21 L120.06,509.19 L119.70,508.18 L119.31,507.17 L118.90,506.17 L118.46,505.18 L118.01,504.20 L117.54,503.22 L117.04,502.26 L116.52,501.30 L115.99,500.36 L115.43,499.42 L114.86,498.49 L114.26,497.58 L113.65,496.67 L113.02,495.78 L112.36,494.89 L111.69,494.02 L111.00,493.17 L110.29,492.32 L109.57,491.49 L108.83,490.67 L108.07,489.86 L107.29,489.07 L106.49,488.30 L105.68,487.53 L104.86,486.79 L104.02,486.05 L103.16,485.34 L102.28,484.63 L101.40,483.95 L100.50,483.28 L99.58,482.63 L98.65,481.99 L97.71,481.37 L96.75,480.77 L95.78,480.18 L94.80,479.62 L93.81,479.07 L92.80,478.54 L91.79,478.02 L90.76,477.53 L89.73,477.05 L88.68,476.60 L87.62,476.16 L86.56,475.74 L85.49,475.34 L84.40,474.96 L83.31,474.60 L82.22,474.26 L81.11,473.94 L80.00,473.64 L78.88,473.36 L77.76,473.10 L76.63,472.86 L75.50,472.65 L74.36,472.45 L73.22,472.27 L72.08,472.11 L70.93,471.98 L69.78,471.86 L68.63,471.77 L67.47,471.69 L66.31,471.64 L65.16,471.61 L64.00,471.60" fill="none"/><path d="M181.90,526.00 L181.88,523.86 L181.81,521.73 L181.70,519.59 L181.54,517.46 L181.33,515.34 L181.08,513.21 L180.79,511.09 L180.45,508.98 L180.06,506.87 L179.63,504.77 L179.16,502.68 L178.64,500.60 L178.08,498.53 L177.47,496.47 L176.82,494.42 L176.13,492.38 L175.39,490.35 L174.61,488.34 L173.79,486.35 L172.93,484.36 L172.02,482.40 L171.07,480.45 L170.08,478.52 L169.05,476.61 L167.98,474.71 L166.87,472.84 L165.72,470.98 L164.53,469.15 L163.30,467.34 L162.03,465.55 L160.73,463.79 L159.38,462.05 L158.00,460.33 L156.59,458.64 L155.14,456.98 L153.65,455.34 L152.13,453.73 L150.58,452.15 L148.99,450.59 L147.37,449.07 L145.72,447.57 L144.03,446.11 L142.32,444.67 L140.57,443.27 L138.79,441.90 L136.99,440.56 L135.16,439.25 L133.30,437.98 L131.41,436.74 L129.50,435.54 L127.56,434.37 L125.60,433.23 L123.62,432.13 L121.61,431.07 L119.58,430.05 L117.53,429.06 L115.45,428.11 L113.36,427.19 L111.25,426.32 L109.12,425.48 L106.97,424.68 L104.81,423.92 L102.63,423.21 L100.43,422.53 L98.22,421.88 L96.00,421.28 L93.77,420.73 L91.52,420.21 L89.27,419.73 L87.00,419.29 L84.73,418.89 L82.44,418.54 L80.15,418.23 L77.86,417.95 L75.56,417.72 L73.25,417.54 L70.94,417.39 L68.63,417.28 L66.31,417.22 L64.00,417.20" fill="none"/><path d="M240.85,526.00 L240.82,522.80 L240.71,519.59 L240.54,516.39 L240.30,513.20 L240.00,510.00 L239.62,506.82 L239.18,503.64 L238.67,500.47 L238.10,497.31 L237.45,494.16 L236.74,491.02 L235.96,487.90 L235.12,484.79 L234.21,481.70 L233.23,478.63 L232.19,475.57 L231.09,472.53 L229.92,469.51 L228.69,466.52 L227.39,463.55 L226.03,460.60 L224.61,457.67 L223.12,454.78 L221.57,451.91 L219.97,449.07 L218.30,446.26 L216.57,443.48 L214.79,440.73 L212.95,438.01 L211.05,435.33 L209.09,432.68 L207.07,430.07 L205.01,427.50 L202.88,424.96 L200.71,422.47 L198.48,420.01 L196.20,417.59 L193.86,415.22 L191.48,412.89 L189.05,410.60 L186.57,408.36 L184.05,406.16 L181.47,404.01 L178.85,401.90 L176.19,399.84 L173.49,397.84 L170.74,395.88 L167.95,393.97 L165.12,392.11 L162.25,390.30 L159.35,388.55 L156.40,386.85 L153.43,385.20 L150.41,383.61 L147.37,382.07 L144.29,380.59 L141.18,379.16 L138.04,377.79 L134.87,376.48 L131.68,375.22 L128.46,374.03 L125.21,372.89 L121.94,371.81 L118.65,370.79 L115.34,369.83 L112.00,368.93 L108.65,368.09 L105.28,367.31 L101.90,366.59 L98.50,365.94 L95.09,365.34 L91.67,364.81 L88.23,364.34 L84.79,363.93 L81.33,363.59 L77.88,363.30 L74.41,363.08 L70.94,362.93 L67.47,362.83 L64.00,362.80" fill="none"/></g><g stroke="#b4b4b4" stroke-width="0.9" stroke-dasharray="1,1.6" fill="none"><path d="M240.85,526.00 L240.85,525.57 L240.84,525.15 L240.83,524.72 L240.82,524.29 L240.80,523.86 L240.78,523.44 L240.76,523.01 L240.73,522.58 L240.70,522.16 L240.67,521.73 L240.63,521.31 L240.59,520.88 L240.54,520.46 L240.49,520.03 L240.44,519.61 L240.39,519.18 L240.33,518.76 L240.26,518.33 L240.19,517.91 L240.12,517.49 L240.05,517.07 L239.97,516.65 L239.89,516.23 L239.81,515.81 L239.72,515.39 L239.63,514.97 L239.53,514.55 L239.43,514.13 L239.33,513.72 L239.22,513.30 L239.11,512.89 L239.00,512.47 L238.88,512.06 L238.76,511.65 L238.64,511.23 L238.51,510.82 L238.38,510.41 L238.24,510.00 L238.11,509.60 L237.96,509.19 L237.82,508.78 L237.67,508.38 L237.52,507.98 L237.36,507.57 L237.21,507.17 L237.04,506.77 L236.88,506.37 L236.71,505.97 L236.54,505.58 L236.36,505.18 L236.18,504.79 L236.00,504.40 L235.82,504.00 L235.63,503.61 L235.44,503.22 L235.24,502.84 L235.04,502.45 L234.84,502.07 L234.63,501.68 L234.42,501.30 L234.21,500.92 L234.00,500.54 L233.78,500.17 L233.56,499.79 L233.33,499.42 L233.11,499.05 L232.87,498.68 L232.64,498.31 L232.40,497.94 L232.16,497.58 L231.92,497.21 L231.67,496.85 L231.42,496.49 L231.17,496.13 L230.92,495.78 L230.66,495.42 L230.39,495.07 L230.13,494.72 L229.86,494.37 L229.59,494.02 L229.32,493.68 L229.04,493.34 L228.76,493.00 L228.48,492.66 L228.19,492.32 L227.91,491.99 L227.62,491.65 L227.32,491.32 L227.03,491.00 L226.73,490.67 L226.42,490.35 L226.12,490.02 L225.81,489.71 L225.50,489.39 L225.19,489.07 L224.87,488.76 L224.55,488.45 L224.23,488.14 L223.91,487.84 L223.58,487.53 L223.26,487.23 L222.92,486.93 L222.59,486.64 L222.25,486.34 L221.92,486.05 L221.57,485.76 L221.23,485.48 L220.88,485.19 L220.54,484.91 L220.18,484.63 L219.83,484.36 L219.48,484.08 L219.12,483.81 L218.76,483.54 L218.40,483.28 L218.03,483.02 L217.66,482.76 L217.29,482.50 L216.92,482.24 L216.55,481.99 L216.17,481.74 L215.80,481.49 L215.42,481.25 L215.03,481.01 L214.65,480.77 L214.26,480.53 L213.88,480.30 L213.49,480.07 L213.10,479.84 L212.70,479.62 L212.31,479.39 L211.91,479.18 L211.51,478.96 L211.11,478.75 L210.70,478.54 L210.30,478.33 L209.89,478.12 L209.48,477.92 L209.07,477.72 L208.66,477.53 L208.25,477.34 L207.83,477.15 L207.42,476.96 L207.00,476.78 L206.58,476.60 L206.16,476.42 L205.74,476.25 L205.31,476.07 L204.89,475.91 L204.46,475.74 L204.03,475.58 L203.60,475.42 L203.17,475.26 L202.74,475.11 L202.30,474.96 L201.87,474.82 L201.43,474.67 L200.99,474.53 L200.56,474.40 L200.12,474.26 L199.68,474.13 L199.23,474.00 L198.79,473.88 L198.35,473.76 L197.90,473.64 L197.46,473.53 L197.01,473.42 L196.56,473.31 L196.11,473.20 L195.66,473.10 L195.21,473.00 L194.76,472.91 L194.31,472.82 L193.85,472.73 L193.40,472.65 L192.95,472.56 L192.49,472.49 L192.04,472.41 L191.58,472.34 L191.12,472.27 L190.66,472.20 L190.21,472.14 L189.75,472.08 L189.29,472.03 L188.83,471.98 L188.37,471.93 L187.91,471.88 L187.45,471.84 L186.99,471.80 L186.53,471.77 L186.06,471.74 L185.60,471.71 L185.14,471.68 L184.68,471.66 L184.21,471.64 L183.75,471.63 L183.29,471.62 L182.83,471.61 L182.36,471.60 L181.90,471.60 L181.44,471.60 L180.97,471.61 L180.51,471.62 L180.05,471.63 L179.59,471.64 L179.12,471.66 L178.66,471.68 L178.20,471.71 L177.74,471.74 L177.27,471.77 L176.81,471.80 L176.35,471.84 L175.89,471.88 L175.43,471.93 L174.97,471.98 L174.51,472.03 L174.05,472.08 L173.59,472.14 L173.14,472.20 L172.68,472.27 L172.22,472.34 L171.76,472.41 L171.31,472.49 L170.85,472.56 L170.40,472.65 L169.95,472.73 L169.49,472.82 L169.04,472.91 L168.59,473.00 L168.14,473.10 L167.69,473.20 L167.24,473.31 L166.79,473.42 L166.34,473.53 L165.90,473.64 L165.45,473.76 L165.01,473.88 L164.57,474.00 L164.12,474.13 L163.68,474.26 L163.24,474.40 L162.81,474.53 L162.37,474.67 L161.93,474.82 L161.50,474.96 L161.06,475.11 L160.63,475.26 L160.20,475.42 L159.77,475.58 L159.34,475.74 L158.91,475.91 L158.49,476.07 L158.06,476.25 L157.64,476.42 L157.22,476.60 L156.80,476.78 L156.38,476.96 L155.97,477.15 L155.55,477.34 L155.14,477.53 L154.73,477.72 L154.32,477.92 L153.91,478.12 L153.50,478.33 L153.10,478.54 L152.69,478.75 L152.29,478.96 L151.89,479.18 L151.49,479.39 L151.10,479.62 L150.70,479.84 L150.31,480.07 L149.92,480.30 L149.54,480.53 L149.15,480.77 L148.77,481.01 L148.38,481.25 L148.00,481.49 L147.63,481.74 L147.25,481.99 L146.88,482.24 L146.51,482.50 L146.14,482.76 L145.77,483.02 L145.40,483.28 L145.04,483.54 L144.68,483.81 L144.32,484.08 L143.97,484.36 L143.62,484.63 L143.26,484.91 L142.92,485.19 L142.57,485.48 L142.23,485.76 L141.88,486.05 L141.55,486.34 L141.21,486.64 L140.88,486.93 L140.54,487.23 L140.22,487.53 L139.89,487.84 L139.57,488.14 L139.25,488.45 L138.93,488.76 L138.61,489.07 L138.30,489.39 L137.99,489.71 L137.68,490.02 L137.38,490.35 L137.07,490.67 L136.77,491.00 L136.48,491.32 L136.18,491.65 L135.89,491.99 L135.61,492.32 L135.32,492.66 L135.04,493.00 L134.76,493.34 L134.48,493.68 L134.21,494.02 L133.94,494.37 L133.67,494.72 L133.41,495.07 L133.14,495.42 L132.88,495.78 L132.63,496.13 L132.38,496.49 L132.13,496.85 L131.88,497.21 L131.64,497.58 L131.40,497.94 L131.16,498.31 L130.93,498.68 L130.69,499.05 L130.47,499.42 L130.24,499.79 L130.02,500.17 L129.80,500.54 L129.59,500.92 L129.38,501.30 L129.17,501.68 L128.96,502.07 L128.76,502.45 L128.56,502.84 L128.36,503.22 L128.17,503.61 L127.98,504.00 L127.80,504.40 L127.62,504.79 L127.44,505.18 L127.26,505.58 L127.09,505.97 L126.92,506.37 L126.76,506.77 L126.59,507.17 L126.44,507.57 L126.28,507.98 L126.13,508.38 L125.98,508.78 L125.84,509.19 L125.69,509.60 L125.56,510.00 L125.42,510.41 L125.29,510.82 L125.16,511.23 L125.04,511.65 L124.92,512.06 L124.80,512.47 L124.69,512.89 L124.58,513.30 L124.47,513.72 L124.37,514.13 L124.27,514.55 L124.17,514.97 L124.08,515.39 L123.99,515.81 L123.91,516.23 L123.83,516.65 L123.75,517.07 L123.68,517.49 L123.61,517.91 L123.54,518.33 L123.47,518.76 L123.41,519.18 L123.36,519.61 L123.31,520.03 L123.26,520.46 L123.21,520.88 L123.17,521.31 L123.13,521.73 L123.10,522.16 L123.07,522.58 L123.04,523.01 L123.02,523.44 L123.00,523.86 L122.98,524.29 L122.97,524.72 L122.96,525.15 L122.95,525.57 L122.95,526.00"/><path d="M299.80,526.00 L299.80,525.15 L299.79,524.29 L299.77,523.44 L299.74,522.58 L299.71,521.73 L299.67,520.87 L299.62,520.02 L299.57,519.17 L299.51,518.32 L299.44,517.46 L299.36,516.61 L299.28,515.76 L299.19,514.91 L299.09,514.06 L298.98,513.21 L298.87,512.36 L298.75,511.52 L298.62,510.67 L298.49,509.82 L298.35,508.98 L298.20,508.14 L298.04,507.29 L297.88,506.45 L297.71,505.61 L297.53,504.77 L297.35,503.94 L297.16,503.10 L296.96,502.27 L296.76,501.43 L296.54,500.60 L296.32,499.77 L296.10,498.94 L295.86,498.12 L295.62,497.29 L295.37,496.47 L295.12,495.65 L294.86,494.83 L294.59,494.01 L294.31,493.19 L294.03,492.38 L293.74,491.57 L293.44,490.76 L293.14,489.95 L292.83,489.15 L292.51,488.34 L292.19,487.54 L291.86,486.74 L291.52,485.95 L291.18,485.15 L290.83,484.36 L290.47,483.58 L290.10,482.79 L289.73,482.01 L289.35,481.23 L288.97,480.45 L288.58,479.68 L288.18,478.90 L287.78,478.13 L287.37,477.37 L286.95,476.61 L286.53,475.85 L286.10,475.09 L285.66,474.34 L285.22,473.59 L284.77,472.84 L284.31,472.09 L283.85,471.35 L283.38,470.62 L282.91,469.88 L282.43,469.15 L281.94,468.43 L281.45,467.70 L280.95,466.98 L280.44,466.27 L279.93,465.55 L279.41,464.85 L278.89,464.14 L278.36,463.44 L277.82,462.74 L277.28,462.05 L276.74,461.36 L276.18,460.67 L275.62,459.99 L275.06,459.32 L274.49,458.64 L273.91,457.97 L273.33,457.31 L272.74,456.65 L272.15,455.99 L271.55,455.34 L270.95,454.69 L270.34,454.05 L269.72,453.41 L269.10,452.78 L268.48,452.15 L267.85,451.52 L267.21,450.90 L266.57,450.28 L265.92,449.67 L265.27,449.07 L264.61,448.46 L263.95,447.87 L263.28,447.28 L262.61,446.69 L261.93,446.11 L261.25,445.53 L260.56,444.96 L259.87,444.39 L259.17,443.83 L258.47,443.27 L257.76,442.72 L257.05,442.17 L256.34,441.63 L255.62,441.09 L254.89,440.56 L254.16,440.03 L253.43,439.51 L252.69,438.99 L251.95,438.48 L251.20,437.98 L250.45,437.48 L249.69,436.99 L248.93,436.50 L248.17,436.01 L247.40,435.54 L246.63,435.06 L245.85,434.60 L245.07,434.14 L244.29,433.68 L243.50,433.23 L242.71,432.79 L241.92,432.35 L241.12,431.92 L240.31,431.49 L239.51,431.07 L238.70,430.66 L237.89,430.25 L237.07,429.85 L236.25,429.45 L235.43,429.06 L234.60,428.67 L233.77,428.29 L232.94,427.92 L232.10,427.55 L231.26,427.19 L230.42,426.84 L229.57,426.49 L228.72,426.15 L227.87,425.81 L227.02,425.48 L226.16,425.16 L225.30,424.84 L224.44,424.53 L223.57,424.22 L222.71,423.92 L221.84,423.63 L220.96,423.35 L220.09,423.07 L219.21,422.79 L218.33,422.53 L217.45,422.26 L216.57,422.01 L215.68,421.76 L214.79,421.52 L213.90,421.28 L213.01,421.06 L212.12,420.83 L211.22,420.62 L210.32,420.41 L209.42,420.21 L208.52,420.01 L207.62,419.82 L206.71,419.64 L205.81,419.46 L204.90,419.29 L203.99,419.13 L203.08,418.97 L202.17,418.82 L201.26,418.68 L200.34,418.54 L199.43,418.41 L198.51,418.29 L197.60,418.17 L196.68,418.06 L195.76,417.95 L194.84,417.86 L193.92,417.77 L193.00,417.68 L192.07,417.61 L191.15,417.54 L190.23,417.47 L189.30,417.41 L188.38,417.36 L187.45,417.32 L186.53,417.28 L185.60,417.25 L184.68,417.23 L183.75,417.21 L182.83,417.20 L181.90,417.20 L180.97,417.20 L180.05,417.21 L179.12,417.23 L178.20,417.25 L177.27,417.28 L176.35,417.32 L175.42,417.36 L174.50,417.41 L173.57,417.47 L172.65,417.54 L171.73,417.61 L170.80,417.68 L169.88,417.77 L168.96,417.86 L168.04,417.95 L167.12,418.06 L166.20,418.17 L165.29,418.29 L164.37,418.41 L163.46,418.54 L162.54,418.68 L161.63,418.82 L160.72,418.97 L159.81,419.13 L158.90,419.29 L157.99,419.46 L157.09,419.64 L156.18,419.82 L155.28,420.01 L154.38,420.21 L153.48,420.41 L152.58,420.62 L151.68,420.83 L150.79,421.06 L149.90,421.28 L149.01,421.52 L148.12,421.76 L147.23,422.01 L146.35,422.26 L145.47,422.53 L144.59,422.79 L143.71,423.07 L142.84,423.35 L141.96,423.63 L141.09,423.92 L140.23,424.22 L139.36,424.53 L138.50,424.84 L137.64,425.16 L136.78,425.48 L135.93,425.81 L135.08,426.15 L134.23,426.49 L133.38,426.84 L132.54,427.19 L131.70,427.55 L130.86,427.92 L130.03,428.29 L129.20,428.67 L128.37,429.06 L127.55,429.45 L126.73,429.85 L125.91,430.25 L125.10,430.66 L124.29,431.07 L123.49,431.49 L122.68,431.92 L121.88,432.35 L121.09,432.79 L120.30,433.23 L119.51,433.68 L118.73,434.14 L117.95,434.60 L117.17,435.06 L116.40,435.54 L115.63,436.01 L114.87,436.50 L114.11,436.99 L113.35,437.48 L112.60,437.98 L111.85,438.48 L111.11,438.99 L110.37,439.51 L109.64,440.03 L108.91,440.56 L108.18,441.09 L107.46,441.63 L106.75,442.17 L106.04,442.72 L105.33,443.27 L104.63,443.83 L103.93,444.39 L103.24,444.96 L102.55,445.53 L101.87,446.11 L101.19,446.69 L100.52,447.28 L99.85,447.87 L99.19,448.46 L98.53,449.07 L97.88,449.67 L97.23,450.28 L96.59,450.90 L95.95,451.52 L95.32,452.15 L94.70,452.78 L94.08,453.41 L93.46,454.05 L92.85,454.69 L92.25,455.34 L91.65,455.99 L91.06,456.65 L90.47,457.31 L89.89,457.97 L89.31,458.64 L88.74,459.32 L88.18,459.99 L87.62,460.67 L87.06,461.36 L86.52,462.05 L85.98,462.74 L85.44,463.44 L84.91,464.14 L84.39,464.85 L83.87,465.55 L83.36,466.27 L82.85,466.98 L82.35,467.70 L81.86,468.43 L81.37,469.15 L80.89,469.88 L80.42,470.62 L79.95,471.35 L79.49,472.09 L79.03,472.84 L78.58,473.59 L78.14,474.34 L77.70,475.09 L77.27,475.85 L76.85,476.61 L76.43,477.37 L76.02,478.13 L75.62,478.90 L75.22,479.68 L74.83,480.45 L74.45,481.23 L74.07,482.01 L73.70,482.79 L73.33,483.58 L72.97,484.36 L72.62,485.15 L72.28,485.95 L71.94,486.74 L71.61,487.54 L71.29,488.34 L70.97,489.15 L70.66,489.95 L70.36,490.76 L70.06,491.57 L69.77,492.38 L69.49,493.19 L69.21,494.01 L68.94,494.83 L68.68,495.65 L68.43,496.47 L68.18,497.29 L67.94,498.12 L67.70,498.94 L67.48,499.77 L67.26,500.60 L67.04,501.43 L66.84,502.27 L66.64,503.10 L66.45,503.94 L66.27,504.77 L66.09,505.61 L65.92,506.45 L65.76,507.29 L65.60,508.14 L65.45,508.98 L65.31,509.82 L65.18,510.67 L65.05,511.52 L64.93,512.36 L64.82,513.21 L64.71,514.06 L64.61,514.91 L64.52,515.76 L64.44,516.61 L64.36,517.46 L64.29,518.32 L64.23,519.17 L64.18,520.02 L64.13,520.87 L64.09,521.73 L64.06,522.58 L64.03,523.44 L64.01,524.29 L64.00,525.15 L64.00,526.00"/><path d="M225.88,367.93 L224.53,367.61 L223.18,367.31 L221.83,367.01 L220.48,366.73 L219.12,366.46 L217.76,366.19 L216.40,365.94 L215.04,365.69 L213.67,365.46 L212.31,365.23 L210.94,365.01 L209.57,364.81 L208.19,364.61 L206.82,364.43 L205.44,364.25 L204.07,364.09 L202.69,363.93 L201.31,363.79 L199.93,363.65 L198.54,363.52 L197.16,363.41 L195.78,363.30 L194.39,363.21 L193.00,363.12 L191.62,363.05 L190.23,362.98 L188.84,362.93 L187.45,362.88 L186.07,362.85 L184.68,362.82 L183.29,362.81 L181.90,362.80 L180.51,362.81 L179.12,362.82 L177.73,362.85 L176.35,362.88 L174.96,362.93 L173.57,362.98 L172.18,363.05 L170.80,363.12 L169.41,363.21 L168.02,363.30 L166.64,363.41 L165.26,363.52 L163.87,363.65 L162.49,363.79 L161.11,363.93 L159.73,364.09 L158.36,364.25 L156.98,364.43 L155.61,364.61 L154.23,364.81 L152.86,365.01 L151.49,365.23 L150.13,365.46 L148.76,365.69 L147.40,365.94 L146.04,366.19 L144.68,366.46 L143.32,366.73 L141.97,367.01 L140.62,367.31 L139.27,367.61 L137.92,367.93 L136.58,368.25 L135.23,368.58 L133.90,368.93 L132.56,369.28 L131.23,369.64 L129.90,370.01 L128.57,370.40 L127.25,370.79 L125.93,371.19 L124.62,371.60 L123.30,372.02 L121.99,372.45 L120.69,372.89 L119.39,373.34 L118.09,373.79 L116.80,374.26 L115.51,374.74 L114.22,375.22 L112.94,375.72 L111.66,376.22 L110.39,376.74 L109.12,377.26 L107.86,377.79 L106.60,378.33 L105.35,378.88 L104.10,379.44 L102.85,380.01 L101.61,380.59 L100.38,381.17 L99.15,381.77 L97.92,382.37 L96.70,382.99 L95.49,383.61 L94.28,384.24 L93.07,384.88 L91.88,385.53 L90.68,386.18 L89.50,386.85 L88.31,387.52 L87.14,388.21 L85.97,388.90 L84.81,389.60 L83.65,390.30 L82.50,391.02 L81.35,391.75 L80.21,392.48 L79.08,393.22 L77.95,393.97 L76.83,394.73 L75.72,395.49 L74.61,396.27 L73.51,397.05 L72.41,397.84 L71.33,398.63 L70.25,399.44 L69.17,400.25 L68.10,401.07 L67.05,401.90 L65.99,402.74 L64.95,403.58"/><path d="M121.47,315.67 L119.68,316.11 L117.89,316.57 L116.11,317.04 L114.34,317.52 L112.57,318.02 L110.80,318.53 L109.03,319.05 L107.27,319.58 L105.52,320.13 L103.77,320.69 L102.03,321.26 L100.29,321.85 L98.55,322.45 L96.82,323.06 L95.10,323.68 L93.38,324.32 L91.66,324.96 L89.96,325.62 L88.25,326.30 L86.56,326.98 L84.86,327.68 L83.18,328.39 L81.50,329.11 L79.83,329.84 L78.16,330.59 L76.50,331.35 L74.85,332.12 L73.20,332.90 L71.56,333.69 L69.93,334.50 L68.30,335.32 L66.68,336.14 L65.07,336.99"/></g><text x="78.9" y="326.3" transform="rotate(-28 78.9 326.3)" font-size="8.3" fill="#808080" text-anchor="middle" dominant-baseline="central">2.0</text><text x="105.3" y="374.7" transform="rotate(-28 105.3 374.7)" font-size="8.3" fill="#808080" text-anchor="middle" dominant-baseline="central">1.5</text><text x="132" y="427.4" transform="rotate(-28 132 427.4)" font-size="8.3" fill="#808080" text-anchor="middle" dominant-baseline="central">1.0</text><text x="157" y="476.2" transform="rotate(-28 157 476.2)" font-size="8.3" fill="#808080" text-anchor="middle" dominant-baseline="central">0.5</text><text x="188.2" y="520.7" transform="rotate(35 188.2 520.7)" font-size="8.3" fill="#808080" text-anchor="middle" dominant-baseline="central">0</text><path d="M299.80,526.00 L299.79,524.29 L299.77,522.58 L299.73,520.87 L299.68,519.17 L299.62,517.46 L299.54,515.75 L299.44,514.04 L299.33,512.34 L299.21,510.63 L299.07,508.93 L298.92,507.22 L298.75,505.52 L298.57,503.82 L298.38,502.12 L298.17,500.42 L297.94,498.73 L297.70,497.03 L297.45,495.34 L297.18,493.65 L296.90,491.96 L296.60,490.27 L296.29,488.59 L295.96,486.91 L295.62,485.23 L295.27,483.55 L294.90,481.87 L294.52,480.20 L294.12,478.53 L293.71,476.87 L293.28,475.20 L292.85,473.54 L292.39,471.89 L291.92,470.23 L291.44,468.58 L290.95,466.93 L290.44,465.29 L289.91,463.65 L289.38,462.02 L288.82,460.39 L288.26,458.76 L287.68,457.13 L287.09,455.52 L286.48,453.90 L285.86,452.29 L285.23,450.68 L284.58,449.08 L283.92,447.49 L283.24,445.90 L282.55,444.31 L281.85,442.73 L281.14,441.15 L280.41,439.58 L279.66,438.01 L278.91,436.45 L278.14,434.90 L277.36,433.35 L276.56,431.81 L275.75,430.27 L274.93,428.74 L274.10,427.21 L273.25,425.69 L272.39,424.18 L271.52,422.67 L270.63,421.17 L269.73,419.68 L268.82,418.19 L267.90,416.71 L266.96,415.23 L266.01,413.76 L265.05,412.30 L264.08,410.85 L263.09,409.40 L262.09,407.96 L261.08,406.53 L260.06,405.11 L259.03,403.69 L257.98,402.28 L256.92,400.88 L255.85,399.48 L254.77,398.10 L253.67,396.72 L252.57,395.35 L251.45,393.99 L250.32,392.63 L249.18,391.29 L248.03,389.95 L246.86,388.62 L245.69,387.30 L244.50,385.98 L243.30,384.68 L242.10,383.38 L240.88,382.10 L239.65,380.82 L238.41,379.55 L237.15,378.29 L235.89,377.04 L234.62,375.80 L233.33,374.57 L232.04,373.35 L230.74,372.13 L229.42,370.93 L228.10,369.74 L226.76,368.55 L225.42,367.38 L224.06,366.21 L222.70,365.06 L221.32,363.91 L219.94,362.78 L218.54,361.65 L217.14,360.54 L215.73,359.43 L214.30,358.34 L212.87,357.25 L211.43,356.18 L209.98,355.12 L208.52,354.06 L207.06,353.02 L205.58,351.99 L204.09,350.97 L202.60,349.96 L201.10,348.96 L199.59,347.97 L198.07,346.99 L196.54,346.03 L195.00,345.07 L193.46,344.13 L191.91,343.20 L190.35,342.27 L188.78,341.36 L187.21,340.47 L185.62,339.58 L184.03,338.70 L182.43,337.84 L180.83,336.99 L179.22,336.14 L177.60,335.32 L175.97,334.50 L174.34,333.69 L172.70,332.90 L171.05,332.12 L169.40,331.35 L167.74,330.59 L166.07,329.84 L164.40,329.11 L162.72,328.39 L161.04,327.68 L159.34,326.98 L157.65,326.30 L155.94,325.62 L154.24,324.96 L152.52,324.32 L150.80,323.68 L149.08,323.06 L147.35,322.45 L145.61,321.85 L143.87,321.26 L142.13,320.69 L140.38,320.13 L138.63,319.58 L136.87,319.05 L135.10,318.53 L133.33,318.02 L131.56,317.52 L129.79,317.04 L128.01,316.57 L126.22,316.11 L124.43,315.67 L122.64,315.24 L120.85,314.82 L119.05,314.41 L117.24,314.02 L115.44,313.64 L113.63,313.27 L111.82,312.92 L110.00,312.58 L108.18,312.25 L106.36,311.94 L104.54,311.64 L102.72,311.35 L100.89,311.08 L99.06,310.82 L97.22,310.57 L95.39,310.34 L93.55,310.12 L91.72,309.91 L89.88,309.71 L88.03,309.53 L86.19,309.37 L84.35,309.21 L82.50,309.07 L80.65,308.94 L78.81,308.83 L76.96,308.73 L75.11,308.64 L73.26,308.57 L71.41,308.51 L69.56,308.46 L67.70,308.43 L65.85,308.41 L64.00,308.40" fill="none" stroke="#3a3a3a" stroke-width="1.05"/><line x1="64.00" y1="526.00" x2="64.00" y2="308.40" stroke="#000" stroke-width="1.6"/><line x1="63.40" y1="526.00" x2="299.80" y2="526.00" stroke="#000" stroke-width="1.6"/><g stroke="#333" stroke-width="1.2"><line x1="64.00" y1="526.00" x2="64.00" y2="529.50"/><line x1="122.95" y1="526.00" x2="122.95" y2="529.50"/><line x1="181.90" y1="526.00" x2="181.90" y2="529.50"/><line x1="240.85" y1="526.00" x2="240.85" y2="529.50"/><line x1="299.80" y1="526.00" x2="299.80" y2="529.50"/><line x1="64.00" y1="471.60" x2="59.00" y2="471.60"/><line x1="64.00" y1="417.20" x2="59.00" y2="417.20"/><line x1="64.00" y1="362.80" x2="59.00" y2="362.80"/><line x1="64.00" y1="308.40" x2="59.00" y2="308.40"/></g><text x="63.4" y="295.1" font-size="8.3" fill="#111" stroke="#111" stroke-width="0.2" text-anchor="middle" dominant-baseline="central">0</text><text x="87.9" y="296.7" font-size="8.3" fill="#111" stroke="#111" stroke-width="0.2" text-anchor="middle" dominant-baseline="central">0.1</text><text x="113.1" y="299.5" font-size="8.3" fill="#111" stroke="#111" stroke-width="0.2" text-anchor="middle" dominant-baseline="central">0.2</text><text x="138.1" y="305.8" font-size="8.3" fill="#111" stroke="#111" stroke-width="0.2" text-anchor="middle" dominant-baseline="central">0.3</text><text x="162.6" y="314.4" font-size="8.3" fill="#111" stroke="#111" stroke-width="0.2" text-anchor="middle" dominant-baseline="central">0.4</text><text x="187.0" y="325.4" font-size="8.3" fill="#111" stroke="#111" stroke-width="0.2" text-anchor="middle" dominant-baseline="central">0.5</text><text x="212.3" y="340.5" font-size="8.3" fill="#111" stroke="#111" stroke-width="0.2" text-anchor="middle" dominant-baseline="central">0.6</text><text x="237.2" y="360.5" font-size="8.3" fill="#111" stroke="#111" stroke-width="0.2" text-anchor="middle" dominant-baseline="central">0.7</text><text x="262.3" y="386.5" font-size="8.3" fill="#111" stroke="#111" stroke-width="0.2" text-anchor="middle" dominant-baseline="central">0.8</text><text x="287.2" y="424.0" font-size="8.3" fill="#111" stroke="#111" stroke-width="0.2" text-anchor="middle" dominant-baseline="central">0.9</text><text x="299.3" y="452.8" font-size="8.3" fill="#111" stroke="#111" stroke-width="0.2" text-anchor="middle" dominant-baseline="central">0.95</text><text x="309.4" y="491.8" font-size="8.3" fill="#111" stroke="#111" stroke-width="0.2" text-anchor="middle" dominant-baseline="central">0.99</text><text x="311.7" y="523.7" font-size="8.3" fill="#111" stroke="#111" stroke-width="0.2" text-anchor="middle" dominant-baseline="central">1</text><text x="76.40" y="260.2" font-size="8.3" fill="#111" stroke="#111" stroke-width="0.2" text-anchor="middle" dominant-baseline="central">0.0</text><text x="112.53" y="260.2" font-size="8.3" fill="#111" stroke="#111" stroke-width="0.2" text-anchor="middle" dominant-baseline="central">0.5</text><text x="148.65" y="260.2" font-size="8.3" fill="#111" stroke="#111" stroke-width="0.2" text-anchor="middle" dominant-baseline="central">1.0</text><text x="184.78" y="260.2" font-size="8.3" fill="#111" stroke="#111" stroke-width="0.2" text-anchor="middle" dominant-baseline="central">1.5</text><text x="220.90" y="260.2" font-size="8.3" fill="#111" stroke="#111" stroke-width="0.2" text-anchor="middle" dominant-baseline="central">2.0</text><text x="257.02" y="260.2" font-size="8.3" fill="#111" stroke="#111" stroke-width="0.2" text-anchor="middle" dominant-baseline="central">2.5</text><text x="293.15" y="260.2" font-size="8.3" fill="#111" stroke="#111" stroke-width="0.2" text-anchor="middle" dominant-baseline="central">3.0</text><text x="64.00" y="536.8" font-size="8.3" fill="#111" stroke="#111" stroke-width="0.2" text-anchor="middle" dominant-baseline="central">0.0</text><text x="122.95" y="536.8" font-size="8.3" fill="#111" stroke="#111" stroke-width="0.2" text-anchor="middle" dominant-baseline="central">0.5</text><text x="181.90" y="536.8" font-size="8.3" fill="#111" stroke="#111" stroke-width="0.2" text-anchor="middle" dominant-baseline="central">1.0</text><text x="240.85" y="536.8" font-size="8.3" fill="#111" stroke="#111" stroke-width="0.2" text-anchor="middle" dominant-baseline="central">1.5</text><text x="299.80" y="536.8" font-size="8.3" fill="#111" stroke="#111" stroke-width="0.2" text-anchor="middle" dominant-baseline="central">2.0</text><text x="56.18" y="218.77" font-size="8.3" fill="#111" stroke="#111" stroke-width="0.2" text-anchor="middle" dominant-baseline="central" transform="rotate(-24 56.18 218.77)">0.5</text><text x="48.95" y="182.64" font-size="8.3" fill="#111" stroke="#111" stroke-width="0.2" text-anchor="middle" dominant-baseline="central" transform="rotate(-24 48.95 182.64)">1.0</text><text x="41.73" y="146.51" font-size="8.3" fill="#111" stroke="#111" stroke-width="0.2" text-anchor="middle" dominant-baseline="central" transform="rotate(-24 41.73 146.51)">1.5</text><text x="34.50" y="110.38" font-size="8.3" fill="#111" stroke="#111" stroke-width="0.2" text-anchor="middle" dominant-baseline="central" transform="rotate(-24 34.50 110.38)">2.0</text><text x="27.27" y="74.25" font-size="8.3" fill="#111" stroke="#111" stroke-width="0.2" text-anchor="middle" dominant-baseline="central" transform="rotate(-24 27.27 74.25)">2.5</text><text x="20.05" y="38.12" font-size="8.3" fill="#111" stroke="#111" stroke-width="0.2" text-anchor="middle" dominant-baseline="central" transform="rotate(-24 20.05 38.12)">3.0</text><text x="55.30" y="472.50" font-size="8.3" fill="#111" stroke="#111" stroke-width="0.2" text-anchor="end" dominant-baseline="central">0.5</text><text x="55.30" y="418.10" font-size="8.3" fill="#111" stroke="#111" stroke-width="0.2" text-anchor="end" dominant-baseline="central">1.0</text><text x="55.30" y="363.70" font-size="8.3" fill="#111" stroke="#111" stroke-width="0.2" text-anchor="end" dominant-baseline="central">1.5</text><text x="55.30" y="309.30" font-size="8.3" fill="#111" stroke="#111" stroke-width="0.2" text-anchor="end" dominant-baseline="central">2.0</text><text x="188.6" y="277.5" font-size="8.8" fill="#111" stroke="#111" stroke-width="0.35" text-anchor="middle">Normalized Standard Deviation</text><text x="188.6" y="554.5" font-size="8.8" fill="#111" stroke="#111" stroke-width="0.35" text-anchor="middle">Normalized Standard Deviation</text><text x="0" y="0" font-size="8.8" fill="#111" stroke="#111" stroke-width="0.35" text-anchor="middle" transform="translate(25.6 150.5) rotate(-101.5)">Normalized Standard Deviation</text><text x="0" y="0" font-size="8.8" fill="#111" stroke="#111" stroke-width="0.35" text-anchor="middle" transform="translate(34.2 417.3) rotate(-90)">Normalized Standard Deviation</text><text x="0" y="0" font-size="8.8" fill="#111" stroke="#111" stroke-width="0.35" text-anchor="middle" dominant-baseline="central" transform="translate(262 82.4) rotate(48.5)">Correlation</text><text x="0" y="0" font-size="8.8" fill="#111" stroke="#111" stroke-width="0.35" text-anchor="middle" dominant-baseline="central" transform="translate(259.6 360.7) rotate(43.6)">Correlation</text><text x="0.3" y="10.6" font-size="10.6" font-weight="bold" fill="#000">(a)</text><text x="0.3" y="295.4" font-size="10.6" font-weight="bold" fill="#000">(b)</text><path d="M148.65,250.10 L148.64,249.01 L148.62,247.92 L148.58,246.83 L148.52,245.75 L148.45,244.66 L148.37,243.57 L148.26,242.49 L148.15,241.41 L148.01,240.33 L147.86,239.25 L147.70,238.17 L147.52,237.10 L147.32,236.03 L147.11,234.96 L146.88,233.90 L146.64,232.84 L146.39,231.78 L146.11,230.73 L145.82,229.68 L145.52,228.63 L145.20,227.59 L144.87,226.56 L144.52,225.53 L144.16,224.50 L143.78,223.49 L143.39,222.47 L142.98,221.47 L142.56,220.47 L142.12,219.47 L141.67,218.48 L141.21,217.50 L140.73,216.53 L140.24,215.56 L139.73,214.61 L139.21,213.66 L138.68,212.71 L138.13,211.78 L137.57,210.85 L136.99,209.93 L136.41,209.02 L135.81,208.12 L135.19,207.23 L134.57,206.35 L133.93,205.48 L133.27,204.62 L132.61,203.77 L131.93,202.92 L131.25,202.09 L130.54,201.27 L129.83,200.46 L129.11,199.66 L128.37,198.87 L127.63,198.09 L126.87,197.33 L126.10,196.57 L125.32,195.83 L124.53,195.10 L123.73,194.38 L122.92,193.67 L122.09,192.97 L121.26,192.29 L120.42,191.62 L119.57,190.96 L118.71,190.32 L117.84,189.69 L116.96,189.07 L116.08,188.47 L115.18,187.87 L114.28,187.30 L113.36,186.73 L112.44,186.18 L111.51,185.65 L110.58,185.12 L109.63,184.62 L108.68,184.12 L107.72,183.64 L106.76,183.18 L105.79,182.73 L104.81,182.29 L103.83,181.87 L102.84,181.46 L101.84,181.07 L100.84,180.70 L99.83,180.34 L98.82,179.99 L97.80,179.66 L96.78,179.35 L95.76,179.05 L94.73,178.76 L93.69,178.49 L92.65,178.24 L91.61,178.00 L90.57,177.78 L89.52,177.58 L88.47,177.39 L87.42,177.21 L86.36,177.05 L85.30,176.91 L84.24,176.79 L83.18,176.68 L82.12,176.58 L81.05,176.50 L79.99,176.44 L78.92,176.39 L77.86,176.36 L76.79,176.35 L75.72,176.35 L74.66,176.37 L73.59,176.41 L72.52,176.46 L71.46,176.52 L70.39,176.61 L69.33,176.70 L68.27,176.82 L67.21,176.95 L66.15,177.10 L65.10,177.26 L64.05,177.44 L63.00,177.63 L61.95,177.84" fill="none" stroke="#d400d4" stroke-width="1.6"/><path d="M181.90,526.00 L181.89,524.58 L181.86,523.15 L181.81,521.73 L181.74,520.31 L181.65,518.88 L181.54,517.46 L181.41,516.04 L181.25,514.63 L181.08,513.21 L180.89,511.80 L180.68,510.39 L180.45,508.98 L180.20,507.57 L179.93,506.17 L179.63,504.77 L179.32,503.38 L178.99,501.99 L178.64,500.60 L178.27,499.22 L177.88,497.84 L177.47,496.47 L177.04,495.10 L176.60,493.74 L176.13,492.38 L175.64,491.03 L175.14,489.68 L174.61,488.34 L174.07,487.01 L173.51,485.68 L172.93,484.36 L172.33,483.05 L171.71,481.75 L171.07,480.45 L170.41,479.16 L169.74,477.88 L169.05,476.61 L168.34,475.34 L167.61,474.09 L166.87,472.84 L166.10,471.60 L165.32,470.37 L164.53,469.15 L163.71,467.94 L162.88,466.74 L162.03,465.55 L161.16,464.38 L160.28,463.21 L159.38,462.05 L158.47,460.90 L157.54,459.77 L156.59,458.64 L155.63,457.53 L154.65,456.43 L153.65,455.34 L152.64,454.26 L151.62,453.20 L150.58,452.15 L149.52,451.11 L148.45,450.08 L147.37,449.07 L146.27,448.07 L145.16,447.08 L144.03,446.11 L142.89,445.15 L141.74,444.20 L140.57,443.27 L139.39,442.35 L138.20,441.45 L136.99,440.56 L135.77,439.68 L134.54,438.82 L133.30,437.98 L132.05,437.15 L130.78,436.34 L129.50,435.54 L128.21,434.75 L126.91,433.98 L125.60,433.23 L124.28,432.50 L122.95,431.78 L121.61,431.07 L120.26,430.38 L118.90,429.71 L117.53,429.06 L116.15,428.42 L114.76,427.80 L113.36,427.19 L111.95,426.61 L110.54,426.04 L109.12,425.48 L107.69,424.95 L106.25,424.43 L104.81,423.92 L103.36,423.44 L101.90,422.97 L100.43,422.53 L98.96,422.09 L97.49,421.68 L96.00,421.28 L94.51,420.91 L93.02,420.55 L91.52,420.21 L90.02,419.88 L88.51,419.58 L87.00,419.29 L85.49,419.02 L83.97,418.77 L82.44,418.54 L80.92,418.33 L79.39,418.13 L77.86,417.95 L76.32,417.80 L74.79,417.66 L73.25,417.54 L71.71,417.43 L70.17,417.35 L68.63,417.28 L67.09,417.24 L65.54,417.21 L64.00,417.20" fill="none" stroke="#d400d4" stroke-width="1.6"/><g font-size="5.1" font-weight="bold" font-style="italic" text-anchor="middle" stroke-width="0.6"><text x="102.7" y="57.3" fill="#008000" stroke="#008000">C</text><text x="128" y="71.1" fill="#008000" stroke="#008000">R</text><text x="121.7" y="83.1" fill="#008000" stroke="#008000">B</text><text x="105.9" y="92.9" fill="#008000" stroke="#008000">T</text><text x="110.6" y="93.9" fill="#008000" stroke="#008000">I</text><text x="104.6" y="108.7" fill="#008000" stroke="#008000">Q</text><text x="122.3" y="109.1" fill="#008000" stroke="#008000">L</text><text x="129.3" y="111.6" fill="#008000" stroke="#008000">A</text><text x="107.8" y="121.4" fill="#008000" stroke="#008000">K</text><text x="131.2" y="126.4" fill="#008000" stroke="#008000">J</text><text x="102.7" y="142.6" fill="#008000" stroke="#008000">H</text><text x="98.7" y="148.9" fill="#008000" stroke="#008000">F</text><text x="103.6" y="156.6" fill="#008000" stroke="#008000">M</text><text x="107.3" y="156.6" fill="#008000" stroke="#008000">E</text><text x="93.9" y="159.7" fill="#008000" stroke="#008000">N</text><text x="98.7" y="158.2" fill="#008000" stroke="#008000">P</text><text x="90.7" y="166.0" fill="#008000" stroke="#008000">G</text><text x="92" y="169.6" fill="#008000" stroke="#008000">O</text><text x="85.9" y="188.2" fill="#008000" stroke="#008000">D</text><text x="90.4" y="145.1" fill="#0000ff" stroke="#0000ff">R</text><text x="98.3" y="152.7" fill="#0000ff" stroke="#0000ff">J</text><text x="123" y="155.5" fill="#0000ff" stroke="#0000ff">T</text><text x="104" y="159.6" fill="#0000ff" stroke="#0000ff">M</text><text x="126.1" y="160.4" fill="#0000ff" stroke="#0000ff">H</text><text x="101.5" y="169.6" fill="#0000ff" stroke="#0000ff">C</text><text x="119.2" y="169.2" fill="#0000ff" stroke="#0000ff">K</text><text x="92.6" y="174.3" fill="#0000ff" stroke="#0000ff">D</text><text x="96.3" y="175.1" fill="#0000ff" stroke="#0000ff">N</text><text x="103.4" y="174.3" fill="#0000ff" stroke="#0000ff">B</text><text x="114.1" y="173.9" fill="#0000ff" stroke="#0000ff">E</text><text x="123" y="175.5" fill="#0000ff" stroke="#0000ff">A</text><text x="134.3" y="178.7" fill="#0000ff" stroke="#0000ff">P</text><text x="103.4" y="184.4" fill="#0000ff" stroke="#0000ff">O</text><text x="126.1" y="183.7" fill="#0000ff" stroke="#0000ff">I</text><text x="120.4" y="182.5" fill="#0000ff" stroke="#0000ff">F</text><text x="107.2" y="186.9" fill="#0000ff" stroke="#0000ff">Q</text><text x="106.5" y="190.7" fill="#0000ff" stroke="#0000ff">G</text><text x="79.2" y="181.0" fill="#0000ff" stroke="#0000ff">S</text><text x="79.4" y="164.0" fill="#ff9200" stroke="#ff9200">K</text><text x="100.2" y="163.5" fill="#ff9200" stroke="#ff9200">I</text><text x="115.4" y="164.8" fill="#ff9200" stroke="#ff9200">P</text><text x="120.4" y="165.4" fill="#ff9200" stroke="#ff9200">L</text><text x="87.5" y="180.3" fill="#ff9200" stroke="#ff9200">O</text><text x="117.3" y="186.9" fill="#ff9200" stroke="#ff9200">S</text><text x="109.7" y="191.9" fill="#ff9200" stroke="#ff9200">R</text><text x="102.7" y="195.4" fill="#ff9200" stroke="#ff9200">C</text><text x="106.5" y="198.3" fill="#ff9200" stroke="#ff9200">T</text><text x="120.4" y="194.5" fill="#ff9200" stroke="#ff9200">E</text><text x="126.7" y="195.7" fill="#ff9200" stroke="#ff9200">O</text><text x="131.2" y="197.0" fill="#ff9200" stroke="#ff9200">Q</text><text x="137.8" y="193.5" fill="#ff9200" stroke="#ff9200">A</text><text x="137" y="198.8" fill="#ff9200" stroke="#ff9200">G</text><text x="146.4" y="179.0" fill="#ff9200" stroke="#ff9200">D</text><text x="144.9" y="187.0" fill="#ff9200" stroke="#ff9200">O</text><text x="131.9" y="205.5" fill="#ff9200" stroke="#ff9200">M</text><text x="99" y="204.7" fill="#ff9200" stroke="#ff9200">I</text><text x="132.4" y="205.9" fill="#ff9200" stroke="#ff9200">N</text><text x="124.8" y="157.8" fill="#a3e22a" stroke="#a3e22a">A</text><text x="99" y="176.8" fill="#a3e22a" stroke="#a3e22a">I</text><text x="93.3" y="179.7" fill="#a3e22a" stroke="#a3e22a">H</text><text x="103.4" y="180.6" fill="#a3e22a" stroke="#a3e22a">A</text><text x="85.7" y="188.1" fill="#a3e22a" stroke="#a3e22a">D</text><text x="83.2" y="191.3" fill="#a3e22a" stroke="#a3e22a">Q</text><text x="99.6" y="190.0" fill="#a3e22a" stroke="#a3e22a">O</text><text x="124.2" y="191.3" fill="#a3e22a" stroke="#a3e22a">G</text><text x="116" y="195.1" fill="#a3e22a" stroke="#a3e22a">L</text><text x="123.6" y="200.1" fill="#a3e22a" stroke="#a3e22a">N</text><text x="133.8" y="200.5" fill="#a3e22a" stroke="#a3e22a">C</text><text x="131.9" y="209.3" fill="#a3e22a" stroke="#a3e22a">B</text><text x="64.3" y="181.0" fill="#a3e22a" stroke="#a3e22a">K</text><text x="74" y="185.5" fill="#a3e22a" stroke="#a3e22a">I</text><text x="78.9" y="184.4" fill="#a3e22a" stroke="#a3e22a">G</text><text x="83.2" y="191.5" fill="#a3e22a" stroke="#a3e22a">J</text><text x="75.1" y="193.6" fill="#a3e22a" stroke="#a3e22a">S</text><text x="89.1" y="197.4" fill="#a3e22a" stroke="#a3e22a">O</text><text x="83.2" y="207.6" fill="#a3e22a" stroke="#a3e22a">H</text><text x="98.3" y="192.0" fill="#a3e22a" stroke="#a3e22a">E</text><text x="100.8" y="198.3" fill="#17bfca" stroke="#17bfca">S</text><text x="103.4" y="202.1" fill="#17bfca" stroke="#17bfca">M</text><text x="107.2" y="202.1" fill="#17bfca" stroke="#17bfca">T</text><text x="87.5" y="206.0" fill="#17bfca" stroke="#17bfca">A</text><text x="81.3" y="219.8" fill="#17bfca" stroke="#17bfca">C</text><text x="95.2" y="210.4" fill="#17bfca" stroke="#17bfca">S</text><text x="106.5" y="212.3" fill="#17bfca" stroke="#17bfca">J</text><text x="95.8" y="215.4" fill="#17bfca" stroke="#17bfca">N</text><text x="93.3" y="218.6" fill="#17bfca" stroke="#17bfca">D</text><text x="92" y="221.1" fill="#17bfca" stroke="#17bfca">E</text><text x="90.7" y="223.6" fill="#17bfca" stroke="#17bfca">G</text><text x="97" y="217.9" fill="#17bfca" stroke="#17bfca">B</text><text x="114.1" y="205.9" fill="#17bfca" stroke="#17bfca">O</text><text x="122.3" y="204.7" fill="#17bfca" stroke="#17bfca">P</text><text x="152.1" y="210.6" fill="#17bfca" stroke="#17bfca">Q</text><text x="153.4" y="217.5" fill="#17bfca" stroke="#17bfca">M</text><text x="121.7" y="185.6" fill="#7b00ff" stroke="#7b00ff">N</text><text x="126.7" y="202.1" fill="#7b00ff" stroke="#7b00ff">A</text><text x="116.6" y="203.3" fill="#7b00ff" stroke="#7b00ff">D</text><text x="121.7" y="203.9" fill="#7b00ff" stroke="#7b00ff">E</text><text x="128" y="205.1" fill="#7b00ff" stroke="#7b00ff">F</text><text x="108.4" y="207.8" fill="#7b00ff" stroke="#7b00ff">O</text><text x="117.9" y="209.1" fill="#7b00ff" stroke="#7b00ff">S</text><text x="117.3" y="204.7" fill="#7b00ff" stroke="#7b00ff">G</text><text x="126.7" y="205.9" fill="#7b00ff" stroke="#7b00ff">H</text><text x="138.1" y="214.8" fill="#7b00ff" stroke="#7b00ff">J</text><text x="147" y="194.1" fill="#7b00ff" stroke="#7b00ff">T</text><text x="151.5" y="199.8" fill="#7b00ff" stroke="#7b00ff">I</text><text x="139.5" y="204.3" fill="#7b00ff" stroke="#7b00ff">N</text><text x="143.9" y="205.5" fill="#7b00ff" stroke="#7b00ff">K</text><text x="152.7" y="206.8" fill="#7b00ff" stroke="#7b00ff">Q</text><text x="156.5" y="213.7" fill="#7b00ff" stroke="#7b00ff">O</text><text x="146.4" y="211.2" fill="#7b00ff" stroke="#7b00ff">M</text><text x="148.9" y="213.1" fill="#7b00ff" stroke="#7b00ff">R</text><text x="147.7" y="215.0" fill="#7b00ff" stroke="#7b00ff">B</text><text x="138.2" y="214.4" fill="#7b00ff" stroke="#7b00ff">C</text><text x="150.8" y="217.5" fill="#7b00ff" stroke="#7b00ff">L</text><text x="120.4" y="211.6" fill="#ff0000" stroke="#ff0000">A</text><text x="128.6" y="214.8" fill="#ff0000" stroke="#ff0000">O</text><text x="135.6" y="216.1" fill="#ff0000" stroke="#ff0000">G</text><text x="148.3" y="200.5" fill="#ff0000" stroke="#ff0000">R</text><text x="161.6" y="204.3" fill="#ff0000" stroke="#ff0000">C</text><text x="170.4" y="206.8" fill="#ff0000" stroke="#ff0000">L</text><text x="166" y="208.7" fill="#ff0000" stroke="#ff0000">I</text><text x="158.4" y="208.0" fill="#ff0000" stroke="#ff0000">T</text><text x="160.3" y="210.6" fill="#ff0000" stroke="#ff0000">P</text><text x="146.4" y="208.1" fill="#ff0000" stroke="#ff0000">N</text><text x="149.6" y="207.4" fill="#ff0000" stroke="#ff0000">M</text><text x="146.4" y="215.0" fill="#ff0000" stroke="#ff0000">B</text><text x="130" y="213.7" fill="#ff0000" stroke="#ff0000">D</text><text x="135.7" y="215.0" fill="#ff0000" stroke="#ff0000">O</text><text x="155.9" y="217.5" fill="#ff0000" stroke="#ff0000">K</text><text x="145.2" y="220.1" fill="#ff0000" stroke="#ff0000">F</text><text x="149.6" y="220.1" fill="#ff0000" stroke="#ff0000">J</text></g><path d="M110.30,164.10 L109.21,166.30 L106.78,166.66 L108.54,168.37 L108.13,170.79 L110.30,169.65 L112.47,170.79 L112.06,168.37 L113.82,166.66 L111.39,166.30Z" fill="#008000" stroke="#000" stroke-width="1.0" stroke-linejoin="round"/><path d="M100.80,204.90 L99.71,207.10 L97.28,207.46 L99.04,209.17 L98.63,211.59 L100.80,210.45 L102.97,211.59 L102.56,209.17 L104.32,207.46 L101.89,207.10Z" fill="#0000ff" stroke="#000" stroke-width="1.0" stroke-linejoin="round"/><path d="M106.50,214.30 L105.41,216.50 L102.98,216.86 L104.74,218.57 L104.33,220.99 L106.50,219.85 L108.67,220.99 L108.26,218.57 L110.02,216.86 L107.59,216.50Z" fill="#ff9200" stroke="#000" stroke-width="1.0" stroke-linejoin="round"/><path d="M91.40,224.40 L90.31,226.60 L87.88,226.96 L89.64,228.67 L89.23,231.09 L91.40,229.95 L93.57,231.09 L93.16,228.67 L94.92,226.96 L92.49,226.60Z" fill="#a3e22a" stroke="#000" stroke-width="1.0" stroke-linejoin="round"/><path d="M105.90,223.20 L104.81,225.40 L102.38,225.76 L104.14,227.47 L103.73,229.89 L105.90,228.75 L108.07,229.89 L107.66,227.47 L109.42,225.76 L106.99,225.40Z" fill="#17bfca" stroke="#000" stroke-width="1.0" stroke-linejoin="round"/><path d="M132.40,216.20 L131.31,218.40 L128.88,218.76 L130.64,220.47 L130.23,222.89 L132.40,221.75 L134.57,222.89 L134.16,220.47 L135.92,218.76 L133.49,218.40Z" fill="#7b00ff" stroke="#000" stroke-width="1.0" stroke-linejoin="round"/><path d="M141.10,219.60 L140.01,221.80 L137.58,222.16 L139.34,223.87 L138.93,226.29 L141.10,225.15 L143.27,226.29 L142.86,223.87 L144.62,222.16 L142.19,221.80Z" fill="#ff0000" stroke="#000" stroke-width="1.0" stroke-linejoin="round"/><g font-size="5.1" font-weight="bold" font-style="italic" text-anchor="middle" stroke-width="0.6"><text x="108.8" y="314.7" fill="#17bfca" stroke="#17bfca">X</text><text x="112.1" y="374.1" fill="#ff0000" stroke="#ff0000">R</text><text x="150" y="385.0" fill="#008000" stroke="#008000">T</text><text x="159.4" y="378.4" fill="#0000ff" stroke="#0000ff">L</text><text x="184.6" y="381.7" fill="#008000" stroke="#008000">L</text><text x="164.4" y="391.0" fill="#0000ff" stroke="#0000ff">A</text><text x="146.7" y="398.1" fill="#ff0000" stroke="#ff0000">S</text><text x="128.3" y="401.1" fill="#17bfca" stroke="#17bfca">T</text><text x="127.3" y="408.2" fill="#17bfca" stroke="#17bfca">L</text><text x="180.3" y="408.2" fill="#0000ff" stroke="#0000ff">B</text><text x="157.6" y="408.7" fill="#008000" stroke="#008000">I</text><text x="76.6" y="422.4" fill="#a3e22a" stroke="#a3e22a">M</text><text x="76.6" y="427.2" fill="#0000ff" stroke="#0000ff">R</text><text x="92" y="422.4" fill="#0000ff" stroke="#0000ff">S</text><text x="106.9" y="416.7" fill="#0000ff" stroke="#0000ff">M</text><text x="102.5" y="430.6" fill="#0000ff" stroke="#0000ff">I</text><text x="104.4" y="436.9" fill="#008000" stroke="#008000">C</text><text x="120.8" y="416.0" fill="#0000ff" stroke="#0000ff">Q</text><text x="121.5" y="419.7" fill="#0000ff" stroke="#0000ff">D</text><text x="77.9" y="448.9" fill="#17bfca" stroke="#17bfca">C</text><text x="117" y="428.7" fill="#0000ff" stroke="#0000ff">K</text><text x="118.3" y="431.2" fill="#ff0000" stroke="#ff0000">F</text><text x="115.2" y="433.7" fill="#17bfca" stroke="#17bfca">M</text><text x="118.8" y="434.4" fill="#17bfca" stroke="#17bfca">N</text><text x="117" y="440.7" fill="#17bfca" stroke="#17bfca">O</text><text x="120.2" y="437.5" fill="#ff9200" stroke="#ff9200">H</text><text x="121.5" y="443.8" fill="#ff9200" stroke="#ff9200">A</text><text x="111.4" y="453.3" fill="#a3e22a" stroke="#a3e22a">A</text><text x="115.8" y="452.1" fill="#0000ff" stroke="#0000ff">T</text><text x="121.5" y="451.4" fill="#a3e22a" stroke="#a3e22a">S</text><text x="129.5" y="417.9" fill="#17bfca" stroke="#17bfca">B</text><text x="135.2" y="418.6" fill="#0000ff" stroke="#0000ff">I</text><text x="139.6" y="419.2" fill="#008000" stroke="#008000">K</text><text x="141.5" y="414.8" fill="#008000" stroke="#008000">E</text><text x="151" y="414.8" fill="#ff0000" stroke="#ff0000">T</text><text x="156.7" y="414.8" fill="#0000ff" stroke="#0000ff">O</text><text x="158.6" y="419.2" fill="#008000" stroke="#008000">G</text><text x="159.2" y="421.7" fill="#0000ff" stroke="#0000ff">G</text><text x="166.2" y="423.0" fill="#008000" stroke="#008000">H</text><text x="133.3" y="423.0" fill="#008000" stroke="#008000">S</text><text x="137.7" y="424.3" fill="#008000" stroke="#008000">P</text><text x="143.4" y="423.6" fill="#0000ff" stroke="#0000ff">P</text><text x="125.1" y="429.3" fill="#0000ff" stroke="#0000ff">N</text><text x="146" y="428.7" fill="#0000ff" stroke="#0000ff">N</text><text x="140.9" y="431.5" fill="#ff0000" stroke="#ff0000">M</text><text x="156.7" y="427.4" fill="#ff0000" stroke="#ff0000">F</text><text x="163" y="428.0" fill="#17bfca" stroke="#17bfca">I</text><text x="152.3" y="433.1" fill="#008000" stroke="#008000">M</text><text x="161.7" y="435.6" fill="#008000" stroke="#008000">A</text><text x="168" y="435.0" fill="#ff0000" stroke="#ff0000">E</text><text x="171.2" y="433.1" fill="#008000" stroke="#008000">O</text><text x="173.7" y="429.9" fill="#ff0000" stroke="#ff0000">O</text><text x="116.9" y="428.7" fill="#0000ff" stroke="#0000ff">H</text><text x="120" y="427.4" fill="#0000ff" stroke="#0000ff">E</text><text x="126.4" y="435.0" fill="#0000ff" stroke="#0000ff">K</text><text x="120" y="437.5" fill="#ff9200" stroke="#ff9200">G</text><text x="116.9" y="440.1" fill="#17bfca" stroke="#17bfca">G</text><text x="136.5" y="438.1" fill="#17bfca" stroke="#17bfca">S</text><text x="141.5" y="436.3" fill="#008000" stroke="#008000">K</text><text x="166.8" y="440.1" fill="#008000" stroke="#008000">D</text><text x="171.8" y="440.1" fill="#0000ff" stroke="#0000ff">C</text><text x="145.3" y="441.3" fill="#ff0000" stroke="#ff0000">D</text><text x="152.3" y="440.1" fill="#008000" stroke="#008000">S</text><text x="134" y="443.2" fill="#17bfca" stroke="#17bfca">E</text><text x="141.5" y="442.6" fill="#17bfca" stroke="#17bfca">A</text><text x="150.4" y="443.8" fill="#ff0000" stroke="#ff0000">C</text><text x="158" y="442.6" fill="#008000" stroke="#008000">O</text><text x="121.3" y="444.5" fill="#ff9200" stroke="#ff9200">R</text><text x="126.4" y="444.5" fill="#17bfca" stroke="#17bfca">O</text><text x="137.1" y="448.4" fill="#ff0000" stroke="#ff0000">O</text><text x="151.6" y="448.9" fill="#ff0000" stroke="#ff0000">A</text><text x="145.9" y="450.8" fill="#ff0000" stroke="#ff0000">N</text><text x="156.7" y="452.7" fill="#ff9200" stroke="#ff9200">O</text><text x="159.8" y="456.6" fill="#ff0000" stroke="#ff0000">O</text><text x="116.3" y="451.4" fill="#0000ff" stroke="#0000ff">T</text><text x="122" y="451.4" fill="#a3e22a" stroke="#a3e22a">S</text><text x="149.1" y="453.3" fill="#7b00ff" stroke="#7b00ff">D</text><text x="125.1" y="455.2" fill="#a3e22a" stroke="#a3e22a">I</text><text x="128.9" y="456.6" fill="#a3e22a" stroke="#a3e22a">J</text><text x="141.5" y="455.2" fill="#17bfca" stroke="#17bfca">B</text><text x="174.5" y="429.7" fill="#ff0000" stroke="#ff0000">P</text><text x="171.9" y="433.1" fill="#008000" stroke="#008000">O</text><text x="168.2" y="435.0" fill="#ff0000" stroke="#ff0000">E</text><text x="166.3" y="439.8" fill="#008000" stroke="#008000">O</text><text x="172.6" y="439.8" fill="#0000ff" stroke="#0000ff">C</text><text x="174.1" y="442.6" fill="#ff0000" stroke="#ff0000">J</text><text x="190.9" y="444.1" fill="#7b00ff" stroke="#7b00ff">C</text><text x="98.1" y="460.3" fill="#17bfca" stroke="#17bfca">N</text><text x="108.8" y="464.7" fill="#ff9200" stroke="#ff9200">S</text><text x="114.5" y="467.3" fill="#a3e22a" stroke="#a3e22a">P</text><text x="113.9" y="470.4" fill="#a3e22a" stroke="#a3e22a">C</text><text x="118.3" y="464.1" fill="#a3e22a" stroke="#a3e22a">M</text><text x="121.5" y="468.5" fill="#a3e22a" stroke="#a3e22a">G</text><text x="112" y="478.6" fill="#a3e22a" stroke="#a3e22a">A</text><text x="146" y="450.9" fill="#ff0000" stroke="#ff0000">K</text><text x="155.4" y="454.1" fill="#ff9200" stroke="#ff9200">Q</text><text x="148.5" y="452.8" fill="#7b00ff" stroke="#7b00ff">F</text><text x="130.2" y="453.4" fill="#17bfca" stroke="#17bfca">Q</text><text x="142.2" y="455.9" fill="#17bfca" stroke="#17bfca">K</text><text x="142.2" y="459.7" fill="#a3e22a" stroke="#a3e22a">K</text><text x="147.2" y="460.4" fill="#7b00ff" stroke="#7b00ff">T</text><text x="118.2" y="463.5" fill="#a3e22a" stroke="#a3e22a">M</text><text x="116.3" y="467.3" fill="#a3e22a" stroke="#a3e22a">G</text><text x="154.8" y="463.5" fill="#ff0000" stroke="#ff0000">I</text><text x="158.6" y="467.3" fill="#ff0000" stroke="#ff0000">R</text><text x="156.7" y="466.1" fill="#ff0000" stroke="#ff0000">H</text><text x="163" y="467.3" fill="#ff9200" stroke="#ff9200">H</text><text x="159.2" y="463.5" fill="#ff9200" stroke="#ff9200">F</text><text x="152.9" y="466.1" fill="#ff9200" stroke="#ff9200">T</text><text x="130.2" y="469.8" fill="#ff9200" stroke="#ff9200">E</text><text x="128.9" y="480.2" fill="#ff9200" stroke="#ff9200">L</text><text x="128.9" y="476.1" fill="#a3e22a" stroke="#a3e22a">L</text><text x="128.3" y="472.4" fill="#a3e22a" stroke="#a3e22a">F</text><text x="138.4" y="469.8" fill="#a3e22a" stroke="#a3e22a">G</text><text x="144.7" y="469.8" fill="#a3e22a" stroke="#a3e22a">T</text><text x="140.9" y="473.0" fill="#a3e22a" stroke="#a3e22a">S</text><text x="139" y="475.5" fill="#7b00ff" stroke="#7b00ff">G</text><text x="148.5" y="473.0" fill="#7b00ff" stroke="#7b00ff">N</text><text x="152.3" y="474.3" fill="#ff9200" stroke="#ff9200">G</text><text x="149.7" y="476.1" fill="#ff9200" stroke="#ff9200">O</text><text x="149.1" y="478.7" fill="#7b00ff" stroke="#7b00ff">S</text><text x="150.4" y="479.3" fill="#7b00ff" stroke="#7b00ff">Q</text><text x="152.9" y="480.6" fill="#ff9200" stroke="#ff9200">D</text><text x="166.8" y="471.7" fill="#ff9200" stroke="#ff9200">B</text><text x="166.2" y="475.5" fill="#ff9200" stroke="#ff9200">O</text><text x="159.2" y="481.2" fill="#ff9200" stroke="#ff9200">Q</text><text x="159.8" y="483.7" fill="#ff9200" stroke="#ff9200">J</text><text x="168" y="481.2" fill="#ff9200" stroke="#ff9200">A</text><text x="173.7" y="471.1" fill="#7b00ff" stroke="#7b00ff">A</text><text x="132.1" y="485.0" fill="#a3e22a" stroke="#a3e22a">Q</text><text x="139" y="490.1" fill="#7b00ff" stroke="#7b00ff">I</text><text x="145.9" y="479.9" fill="#7b00ff" stroke="#7b00ff">H</text><text x="183.9" y="462.9" fill="#7b00ff" stroke="#7b00ff">P</text><text x="192.2" y="468.4" fill="#7b00ff" stroke="#7b00ff">L</text><text x="199.7" y="466.1" fill="#7b00ff" stroke="#7b00ff">B</text><text x="175.7" y="471.2" fill="#7b00ff" stroke="#7b00ff">M</text><text x="183.3" y="471.8" fill="#7b00ff" stroke="#7b00ff">R</text><text x="199.1" y="476.0" fill="#7b00ff" stroke="#7b00ff">E</text><text x="166.9" y="471.8" fill="#7b00ff" stroke="#7b00ff">O</text><text x="167.5" y="480.6" fill="#ff9200" stroke="#ff9200">A</text><text x="179.5" y="481.3" fill="#ff9200" stroke="#ff9200">K</text></g><path d="M123.20,465.90 L122.11,468.10 L119.68,468.46 L121.44,470.17 L121.03,472.59 L123.20,471.45 L125.37,472.59 L124.96,470.17 L126.72,468.46 L124.29,468.10Z" fill="#0000ff" stroke="#000" stroke-width="1.0" stroke-linejoin="round"/><path d="M148.90,460.30 L147.81,462.50 L145.38,462.86 L147.14,464.57 L146.73,466.99 L148.90,465.85 L151.07,466.99 L150.66,464.57 L152.42,462.86 L149.99,462.50Z" fill="#008000" stroke="#000" stroke-width="1.0" stroke-linejoin="round"/><path d="M137.10,477.60 L136.01,479.80 L133.58,480.16 L135.34,481.87 L134.93,484.29 L137.10,483.15 L139.27,484.29 L138.86,481.87 L140.62,480.16 L138.19,479.80Z" fill="#17bfca" stroke="#000" stroke-width="1.0" stroke-linejoin="round"/><path d="M135.80,481.40 L134.71,483.60 L132.28,483.96 L134.04,485.67 L133.63,488.09 L135.80,486.95 L137.97,488.09 L137.56,485.67 L139.32,483.96 L136.89,483.60Z" fill="#ff0000" stroke="#000" stroke-width="1.0" stroke-linejoin="round"/><path d="M140.30,491.10 L139.21,493.30 L136.78,493.66 L138.54,495.37 L138.13,497.79 L140.30,496.65 L142.47,497.79 L142.06,495.37 L143.82,493.66 L141.39,493.30Z" fill="#ff9200" stroke="#000" stroke-width="1.0" stroke-linejoin="round"/><path d="M155.70,489.00 L154.61,491.20 L152.18,491.56 L153.94,493.27 L153.53,495.69 L155.70,494.55 L157.87,495.69 L157.46,493.27 L159.22,491.56 L156.79,491.20Z" fill="#7b00ff" stroke="#000" stroke-width="1.0" stroke-linejoin="round"/><path d="M110.10,488.00 L109.01,490.20 L106.58,490.56 L108.34,492.27 L107.93,494.69 L110.10,493.55 L112.27,494.69 L111.86,492.27 L113.62,490.56 L111.19,490.20Z" fill="#a3e22a" stroke="#000" stroke-width="1.0" stroke-linejoin="round"/><rect x="144.85" y="246.90" width="7.6" height="7" fill="#d400d4"/><rect x="178.10" y="522.80" width="7.6" height="7" fill="#d400d4"/><text x="348.4" y="10.20" font-size="9.5" font-weight="bold" font-style="italic" text-anchor="middle" fill="#000" stroke="#000" stroke-width="0.3">A</text><text x="372.3" y="10.60" font-size="12.6" fill="#000" stroke="#000" stroke-width="0.2" textLength="101" lengthAdjust="spacingAndGlyphs">AWI-CM-1-1-MR</text><text x="348.4" y="29.49" font-size="9.5" font-weight="bold" font-style="italic" text-anchor="middle" fill="#000" stroke="#000" stroke-width="0.3">B</text><text x="372.3" y="29.89" font-size="12.6" fill="#000" stroke="#000" stroke-width="0.2" textLength="92.6" lengthAdjust="spacingAndGlyphs">BCC-CSM2-MR</text><text x="348.4" y="48.78" font-size="9.5" font-weight="bold" font-style="italic" text-anchor="middle" fill="#000" stroke="#000" stroke-width="0.3">C</text><text x="372.3" y="49.18" font-size="12.6" fill="#000" stroke="#000" stroke-width="0.2" textLength="66" lengthAdjust="spacingAndGlyphs">BCC-ESM1</text><text x="348.4" y="68.07" font-size="9.5" font-weight="bold" font-style="italic" text-anchor="middle" fill="#000" stroke="#000" stroke-width="0.3">D</text><text x="372.3" y="68.47" font-size="12.6" fill="#000" stroke="#000" stroke-width="0.2" textLength="60" lengthAdjust="spacingAndGlyphs">CanESM5</text><text x="348.4" y="87.36" font-size="9.5" font-weight="bold" font-style="italic" text-anchor="middle" fill="#000" stroke="#000" stroke-width="0.3">E</text><text x="372.3" y="87.76" font-size="12.6" fill="#000" stroke="#000" stroke-width="0.2" textLength="43.8" lengthAdjust="spacingAndGlyphs">CESM2</text><text x="348.4" y="106.65" font-size="9.5" font-weight="bold" font-style="italic" text-anchor="middle" fill="#000" stroke="#000" stroke-width="0.3">F</text><text x="372.3" y="107.05" font-size="12.6" fill="#000" stroke="#000" stroke-width="0.2" textLength="100" lengthAdjust="spacingAndGlyphs">CESM2-WACCM</text><text x="348.4" y="125.94" font-size="9.5" font-weight="bold" font-style="italic" text-anchor="middle" fill="#000" stroke="#000" stroke-width="0.3">G</text><text x="372.3" y="126.34" font-size="12.6" fill="#000" stroke="#000" stroke-width="0.2" textLength="64.2" lengthAdjust="spacingAndGlyphs">EC-Earth3</text><text x="348.4" y="145.23" font-size="9.5" font-weight="bold" font-style="italic" text-anchor="middle" fill="#000" stroke="#000" stroke-width="0.3">H</text><text x="372.3" y="145.63" font-size="12.6" fill="#000" stroke="#000" stroke-width="0.2" textLength="94.3" lengthAdjust="spacingAndGlyphs">EC-Earth3-Veg</text><text x="348.4" y="164.52" font-size="9.5" font-weight="bold" font-style="italic" text-anchor="middle" fill="#000" stroke="#000" stroke-width="0.3">I</text><text x="372.3" y="164.92" font-size="12.6" fill="#000" stroke="#000" stroke-width="0.2" textLength="81.6" lengthAdjust="spacingAndGlyphs">FGOALS-f3-L</text><text x="348.4" y="183.81" font-size="9.5" font-weight="bold" font-style="italic" text-anchor="middle" fill="#000" stroke="#000" stroke-width="0.3">J</text><text x="372.3" y="184.21" font-size="12.6" fill="#000" stroke="#000" stroke-width="0.2" textLength="67.7" lengthAdjust="spacingAndGlyphs">GFDL-CM4</text><text x="348.4" y="203.10" font-size="9.5" font-weight="bold" font-style="italic" text-anchor="middle" fill="#000" stroke="#000" stroke-width="0.3">K</text><text x="372.3" y="203.50" font-size="12.6" fill="#000" stroke="#000" stroke-width="0.2" textLength="74.6" lengthAdjust="spacingAndGlyphs">GFDL-ESM4</text><text x="348.4" y="222.39" font-size="9.5" font-weight="bold" font-style="italic" text-anchor="middle" fill="#000" stroke="#000" stroke-width="0.3">L</text><text x="372.3" y="222.79" font-size="12.6" fill="#000" stroke="#000" stroke-width="0.2" textLength="70.7" lengthAdjust="spacingAndGlyphs">INM-CM4-8</text><text x="348.4" y="241.68" font-size="9.5" font-weight="bold" font-style="italic" text-anchor="middle" fill="#000" stroke="#000" stroke-width="0.3">M</text><text x="372.3" y="242.08" font-size="12.6" fill="#000" stroke="#000" stroke-width="0.2" textLength="89.7" lengthAdjust="spacingAndGlyphs">IPSL-CM6A-LR</text><text x="348.4" y="260.97" font-size="9.5" font-weight="bold" font-style="italic" text-anchor="middle" fill="#000" stroke="#000" stroke-width="0.3">N</text><text x="372.3" y="261.37" font-size="12.6" fill="#000" stroke="#000" stroke-width="0.2" textLength="50.8" lengthAdjust="spacingAndGlyphs">MIROC6</text><text x="348.4" y="280.26" font-size="9.5" font-weight="bold" font-style="italic" text-anchor="middle" fill="#000" stroke="#000" stroke-width="0.3">O</text><text x="372.3" y="280.66" font-size="12.6" fill="#000" stroke="#000" stroke-width="0.2" textLength="100" lengthAdjust="spacingAndGlyphs">MPI-ESM1-2-HR</text><text x="348.4" y="299.55" font-size="9.5" font-weight="bold" font-style="italic" text-anchor="middle" fill="#000" stroke="#000" stroke-width="0.3">P</text><text x="372.3" y="299.95" font-size="12.6" fill="#000" stroke="#000" stroke-width="0.2" textLength="77.3" lengthAdjust="spacingAndGlyphs">MRI-ESM2-0</text><text x="348.4" y="318.84" font-size="9.5" font-weight="bold" font-style="italic" text-anchor="middle" fill="#000" stroke="#000" stroke-width="0.3">Q</text><text x="372.3" y="319.24" font-size="12.6" fill="#000" stroke="#000" stroke-width="0.2" textLength="45.4" lengthAdjust="spacingAndGlyphs">NESM3</text><text x="348.4" y="338.13" font-size="9.5" font-weight="bold" font-style="italic" text-anchor="middle" fill="#000" stroke="#000" stroke-width="0.3">R</text><text x="372.3" y="338.53" font-size="12.6" fill="#000" stroke="#000" stroke-width="0.2" textLength="59" lengthAdjust="spacingAndGlyphs">NorCPM1</text><text x="348.4" y="357.42" font-size="9.5" font-weight="bold" font-style="italic" text-anchor="middle" fill="#000" stroke="#000" stroke-width="0.3">S</text><text x="372.3" y="357.82" font-size="12.6" fill="#000" stroke="#000" stroke-width="0.2" textLength="81.8" lengthAdjust="spacingAndGlyphs">NorESM2-LM</text><text x="348.4" y="376.71" font-size="9.5" font-weight="bold" font-style="italic" text-anchor="middle" fill="#000" stroke="#000" stroke-width="0.3">T</text><text x="372.3" y="377.11" font-size="12.6" fill="#000" stroke="#000" stroke-width="0.2" textLength="93.2" lengthAdjust="spacingAndGlyphs">SAM0-UNICON</text><path d="M348.30,388.50 L347.27,391.18 L344.40,391.33 L346.64,393.14 L345.89,395.92 L348.30,394.35 L350.71,395.92 L349.96,393.14 L352.20,391.33 L349.33,391.18Z" fill="#000"/><text x="372.3" y="396.40" font-size="12.6" fill="#000" stroke="#000" stroke-width="0.2" textLength="79.3" lengthAdjust="spacingAndGlyphs">CMIP6 Mean</text><circle cx="347.9" cy="411.99" r="3.3" fill="#ff0000"/><text x="372.3" y="415.69" font-size="12.6" fill="#000" stroke="#000" stroke-width="0.2" textLength="29" lengthAdjust="spacingAndGlyphs">NAM</text><circle cx="347.9" cy="431.28" r="3.3" fill="#008000"/><text x="372.3" y="434.98" font-size="12.6" fill="#000" stroke="#000" stroke-width="0.2" textLength="25.4" lengthAdjust="spacingAndGlyphs">EUR</text><circle cx="347.9" cy="450.57" r="3.3" fill="#17bfca"/><text x="372.3" y="454.27" font-size="12.6" fill="#000" stroke="#000" stroke-width="0.2" textLength="26" lengthAdjust="spacingAndGlyphs">NAS</text><circle cx="347.9" cy="469.86" r="3.3" fill="#0000ff"/><text x="372.3" y="473.56" font-size="12.6" fill="#000" stroke="#000" stroke-width="0.2" textLength="24.7" lengthAdjust="spacingAndGlyphs">SEA</text><circle cx="347.9" cy="489.15" r="3.3" fill="#7b00ff"/><text x="372.3" y="492.85" font-size="12.6" fill="#000" stroke="#000" stroke-width="0.2" textLength="26" lengthAdjust="spacingAndGlyphs">AUS</text><circle cx="347.9" cy="508.44" r="3.3" fill="#a3e22a"/><text x="372.3" y="512.14" font-size="12.6" fill="#000" stroke="#000" stroke-width="0.2" textLength="23.6" lengthAdjust="spacingAndGlyphs">SAF</text><circle cx="347.9" cy="527.73" r="3.3" fill="#ff9200"/><text x="372.3" y="531.43" font-size="12.6" fill="#000" stroke="#000" stroke-width="0.2" textLength="27" lengthAdjust="spacingAndGlyphs">SAM</text></g></svg>
</body></html>
